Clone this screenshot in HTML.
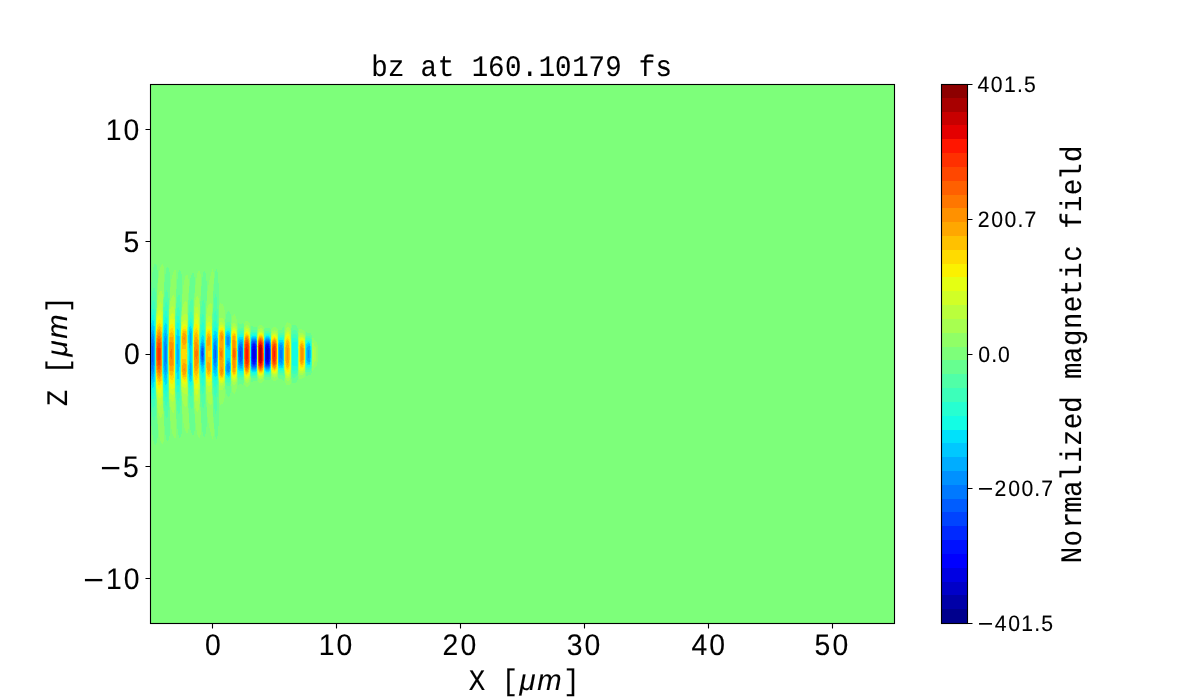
<!DOCTYPE html>
<html><head><meta charset="utf-8"><title>bz at 160.10179 fs</title>
<style>
html,body{margin:0;padding:0;background:#fff;width:1200px;height:700px;overflow:hidden}
svg{display:block;will-change:transform}
.mono{font-family:"Liberation Mono",monospace}
.sans{font-family:"Liberation Sans",sans-serif}
.it{font-family:"Liberation Sans",sans-serif;font-style:italic}
text{fill:#000;stroke:#000;stroke-width:0.1;text-rendering:geometricPrecision}
</style></head><body>
<svg width="1200" height="700" viewBox="0 0 1200 700">
<rect width="1200" height="700" fill="#fff"/>
<defs><clipPath id="ax"><rect x="150" y="84" width="744" height="539"/></clipPath></defs>
<rect x="150" y="84" width="745" height="540" fill="#7dff7a"/>
<g clip-path="url(#ax)" shape-rendering="crispEdges">
<path fill="#90ff66" d="M149  262.3l.5-.1 .5 .4 .7 1.9 .5 3 .1 5-.3 13.6-.3 1.9-.2 9-.2 2-.2 10.5-.3 2.5-.1 15.5-.3 4.5-.1 22 .1 22 .3 4.5 .1 15.5 .3 2.5 .2 10.5 .2 2 .2 9 .3 1.9 .3 14.1-.4 6.5-.4 1.9-.5 1-.5 .4-.5-.1-1-1.4-1-2.9-1-5.5-1-9.7-.2-5.7-.3-2-.3-8-.3-2-.2-10.5-.3-2-.3-15.5-.3-3.5-.1-13 .1-33.5 .3-3 .3-15.5 .3-2 .2-10.5 .3-2 .3-8.5 .3-1.5 .2-5.7 .4-2.8 .1-2.8 1-7.2 1-4.1 .5-1.2 .8-1.2zM162.5  264.4l.5 .4 .3 .7 .5 2 .3 2.5 .1 4.5-.2 10.9-.3 2.6-.2 9.5-.3 1.5-.1 10.5-.3 2.5-.1 15.5-.3 4.5-.1 22 .1 22 .3 4.5 .1 15.5 .3 2.5 .1 10.5 .3 2 .2 9 .3 2.6 .2 11.9-.2 4.5-.3 2-.6 2-.6 .6-.5-.2-1-1.3-1-3-1-5-1-8.9-.1-4.7-.4-2.1-.2-7.9-.4-2-.2-10.5-.3-2-.3-15.5-.3-3.5-.1-19.5 .1-27 .3-3 .3-15.5 .3-2 .2-10.5 .4-2 .2-7.9 .4-2.1 .1-4.7 .5-5.1 1-6.7 .5-2.1 1-3 .5-.8 .8-.6zM212.5  269.4l.5 0 .5 2.1 .1 4.5-.1 8.9-.4 4.1-.1 9-.3 2-.1 11-.3 2-.1 17-.3 2.5 0 4.5 0 37.5 .3 3.5 .1 17 .3 2 .1 11 .3 2 .1 9 .4 4.1 .1 7.9-.1 5.3-.5 2.3-.5 0-.5-.8-1-3.2-2.5-11.2-1-6.5-.1-2.4-.4-3.4-.2-7.6-.4-2.5-.3-12.5-.3-3-.2-31 .2-32 .3-3 .3-12.5 .4-2.5 .2-7.6 .4-3.4 .1-2.4 1-6.5 2.5-11.2 1-3.2 .4-.7zM174.5  269.9l.5-.2 .5 .5 .5 1.7 .4 7.1-.4 15.5-.3 2-.1 10.5-.3 2-.1 14.5-.3 2.5-.1 28 .1 28 .3 2.5 .1 14.5 .3 2 .1 10.5 .3 2 .4 16-.4 6.6-.5 1.7-.5 .5-.5-.2-.5-.6-1.5-4-1-4.8-1-8.1-.2-5.1-.3-2-.3-9-.3-2-.3-12.5-.3-2-.4-34 .4-33.5 .3-3 .3-12 .3-2 .3-9.2 .3-1.8 .2-5.1 1-8.1 1.5-6.5 .5-1.3 .9-1.5zM198.5  271l.5-.5 .5 0 .5 .7 .2 .8 .5 3 .2 5-.4 16.6-.3 2.4-.1 10.5-.3 2.5-.1 15.5-.3 4.5-.1 22 .1 22 .3 4.5 .1 15.5 .3 2.5 .1 10.5 .3 2.5 .4 17-.4 6.4-.5 1.9-.5 .7-.5 0-.5-.5-1-2.2-.5-1.8-1-5.3-1-9.7-.2-6.5-.3-2-.3-10-.3-2.5-.3-14-.3-3.5-.1-15 .1-36 .3-3 .3-14.5 .3-2.5 .3-10.5 .3-1.5 .2-6.5 1-9.7 1-5.3 .5-1.8 1-2.2zM186.5  274.8l.5-.2 .5 .3 .5 1.1 .5 3.3 .1 4.7-.1 10.7-.3 2.8-.1 10.5-.3 2.5-.1 14-.3 4-.1 11.5 .1 38.5 .3 4 .1 15 .3 2.5 .1 10.5 .3 2.8 .1 11.7-.1 3.7-.4 2.8-.6 1.6-.5 .3-.5-.2-.5-.6-1-2.3-.5-1.8-1-5-1-9.4-.2-7.1-.4-2.5-.2-11-.4-2.5-.6-31.5 .1-19 .2-4.5 .3-18.5 .1-2 .3-1 .2-11 .4-2.5 .2-7.1 .4-3.4 .1-2.1 1-6.7 1-4 .5-1.3 .8-1.4zM220  302.9l.5 .5 .5 .8 .5 .1 .5-.3 .5 .2 1 1.7 .8 2.6 .7 4.6 .1 10.9 0 4.5-.3 2 0 13.5 0 31.5 .3 7-.1 12.4-.7 4.6-1.3 3.6-.5 .7-.5 .2-.5-.3-.5 .1-.5 .8-.5 .5-.5-1.9-.2-5.7-.3-2.5-.4-14.5-.3-4-.1-22 .2-24.5 .2-2 .4-16.1 .3-1.4 .2-5.7 .5-1.8zM234  314.2l.5-.1 .5 .5 .5 1 1 3.3 .7 3.6 .3 4.5-.2 3-.1 18.5 .1 29 .2 5-.4 3.5-.6 3.1-1 3.3-.5 1-.5 .5-.5-.1-1-.9-.5-.9-.5-1.8-.5-4.1-.2-9.1-.3-23 .5-31 .5-5.2 .5-1.8 1-1.5zM246.5  320.9l.5 0 1 .4 1 .9 .5 .8 .5 1.2 .3 1.3 .2 3.5-.2 4-.1 18.5 .1 23 .2 2.5 0 3.5-.4 3-.6 1.5-1 1.3-.5 .4-1 .4-1-.2-.5-.4-.8-1-.3-1-.4-2.5-.2-8.5-.1-26.5 .2-20.5 .6-3.5 1-1.5 .8-.5zM287.5  322.4l1 .1 1 .6 1.1 1.4 .4 1.2 .2 6.3 0 42-.2 8-.4 1.5-.6 1-1 .8-1 .3-1-.2-1-1-.5-1-.5-1.8-.6-13.1 0-29.5 .6-12 .2-1.5 .6-1.5 .7-1 .7-.5zM260  325l1-.1 1 .4 1 .8 .5 .7 .5 1.3 .2 5.4 0 39.5-.2 6.5-.4 1.5-.6 .9-1 .8-1.5 .4-1.5-.6-1-1.4-.5-3.6-.2-7.5 0-26.5 .2-12.5 .5-4.1 1-1.4 1-.5zM273  327.4l1-.3 1 0 1.5 .7 1 1.5 .3 1.7 0 46-.3 1.7-.5 .9-1 1-1.5 .4-1.5-.4-1-.9-.5-1.2-.2-3.5-.3-21 .3-21.5 .2-3 .5-1.2 .9-.8zM299.5  329.2l3 .3 1.5 .9 1 1.6 .3 2.5-.1 40.5-.2 1-.5 .9-1 1.1-1 .5-2.5 .3-.5 0-.5-.4-.3-1.4-.2-.8-.2-5.2 .1-35 .1-4.2 .7-2.3zM312.5  337.2l.5 .1 1.5 3 .5 .4 1 .4 1 1.4 .6 2.5 .1 5.5 0 10-.4 4-.8 1.9-.5 .5-1 .4-.5 .4-1.5 3-.5 .1-.4-16.8 .4-16.5z"/>
<path fill="#a7ff50" d="M147.5  286.9l.5-.1 .5 .5 .6 1.7 .6 3.5 .3 5.5 0 9.9-.3 3.6-.1 16-.3 3.5 0 22 0 24 .3 4 .1 16 .3 3.1 0 10.8-.5 6.6-.5 2.1-.5 1.1-.5 .5-.5-.1-.5-.5-.5-.9-1-3.3-1-6.3-.5-5.3-.2-6.8-.3-3-.3-15-.3-2.5-.2-13.5 .2-32.5 .3-3.5 .3-15 .3-3 .2-6.8 .5-5.3 1-6.3 1-3.3 .9-1.3zM161  290.4l.5 .5 .5 1.1 .5 2.4 .3 4.6 .2 5.5-.3 7-.1 16-.3 3.5 0 21.5 0 24.5 .3 3.5 .1 16 .2 3 .1 6-.5 8.1-.5 2.4-.5 1.1-.5 .5-.5-.1-1-1.4-1-2.9-1-5.3-.5-4.5-.2-5.9-.3-2.5-.3-15-.3-2.5-.2-19 .2-27.5 .3-3 .3-15 .3-2.5 .2-5.9 .5-4.5 1-5.3 1-2.9 .5-.9 .7-.5zM173  295.4l.5 0 .5 .5 .5 1.4 .5 3.2 .2 5.5-.1 16.5-.3 4 0 26.5 0 28 .3 4.5 .1 17.5-.2 4.5-.4 2.5-.6 2.1-.5 .5-.5 0-.5-.4-.5-.7-1-2.5-1-4.8-.5-5.1-.2-9.1-.3-1.3-.1-2.7-.5-32 .5-32 .1-2.7 .3-1.3 .2-9.1 .5-5.1 .5-2.9 1-3.3 .5-1.1 .9-1zM197  296.1l.5-.1 .5 .4 .5 1.1 .5 2 .5 4.2 .2 5.3-.1 18-.3 4.5 0 22 0 23 .3 4.5 0 19.5-.1 3.8-.5 4.2-.5 2-.5 1.1-.5 .4-.5-.1-.5-.6-.5-1.1-1-4.4-.5-3.9-.1-2.9-.4-3.6-.3-12.9-.3-2.5-.2-12.5 .1-35.5 .1-4.5 .3-2 .3-12.9 .4-3.6 .1-2.9 .5-3.9 1-4.4 .7-1.3zM185.5  301.4l.5 0 .5 .7 .5 1.5 .4 3.4 .2 14.5 0 4.5-.3 2 0 10.5 0 38.5 .1 4 .2 2.5-.1 16-.5 4.9-.5 1.5-.5 .7-.5 0-1-1-1.5-3.2-.5-1.9-.5-3.3-.1-4.2-.5-4-.3-17.5-.3-3.5 0-11.5 .1-17 .2-3 .4-19 .4-2.5 .1-4.2 .5-3.3 .5-1.9 1.5-3.2 .8-.9zM210.5  302.6l.5 0 .5 1 .5 4.1 .1 3.3 0 17.5-.3 5 0 20.5 0 20.5 .3 5 0 18-.4 5.5-.2 1.4-.5 1-.5 0-.5-.5-1.5-2.4-1-2.5-.5-2.3-.5-3.7-.2-6-.3-2-.3-15 .1-39.5 .2-9 .3-2.5 .2-6 .5-3.7 .5-2.3 1-2.5 1.6-2.5zM220  317.7l2 .3 .5 .2 1 1.2 1 2.7 .4 5.4-.1 2-.1 16 0 32.5 .2 2.5-.1 3-.3 2.4-.3 1.1-1.2 2.3-1 .7-2 .3-.5-.5-.5-2.1-.3-8.2-.3-3-.1-14 .1-31.5 .3-2.5 .3-8.2 .5-2.1 .2-.2zM234  322.9l.5 0 1 .9 1 2.1 .5 1.9 .2 10.7-.1 41-.4 2-.7 1.8-1 1.5-.5 .3-.5 0-1-.5-.5-.5-.5-1-.5-2.3-.4-26.8 .4-26.8 .5-2.3 .5-1 .5-.5 .7-.4zM246.5  325l.5 0 1 .4 1 1.2 1 2.6 .2 2.3 0 45.5-.2 1.8-.8 2.2-1.2 1.6-1 .4-1-.2-.5-.4-.6-.9-.5-1.5-.4-1.9-.2-9.6-.1-24 .3-14.6 .5-2.5 .5-1.1 .5-.7 .9-.6zM287.5  326.9l1 .2 1 .8 .7 1.1 .4 1.5 .4 2.4 .1 10.6-.1 31.6-.5 2.9-.5 1.4-1 1.2-.5 .3-1 .2-1-.7-.5-.8-1-3.2-.5-6.5-.1-9.9 .1-20.5 .5-7.9 1-3.2 .5-.8 .8-.6zM260  328.3l1 0 1 .4 1 1 .5 .9 .5 1.9 .1 4.5-.1 38.5-.5 1.9-.5 .9-1 1-1.5 .5-1-.4-.5-.3-1-1.6-.5-3.1-.1-4.4-.1-23.5 .2-12.9 .5-3.1 .5-1 1.1-1zM274  330.4l1 0 1 .5 .6 .6 .6 1 .3 .9 .2 5.6 0 28-.2 7.6-.5 1.3-.5 .7-1 .8-1 .3-1.5-.5-1-1-.3-.7-.2-1-.2-5.5-.2-15 .4-20.5 .5-1.7 .5-.6 1.1-.7zM301  332.9l1 0 1 .3 1.2 1.3 .8 1.8 .1 3.2 .1 24.5-.2 7.7-.5 1.4-.5 .8-1 .9-1 .3-1.5-.1-1-.5-.5-.9-.5-3.1-.2-18 .2-15.5 .5-2.6 .5-.9 1.1-.5zM312.5  342.2l.5 0 1.5 3.5 .5 .7 .5 .2 .4 .9 .4 2 .2 2.5-.1 5-.4 3.3-.5 1.1-.5 .2-.5 .7-1.5 3.5-.5 0-.1-3.3-.1-8.5 .2-11.5z"/>
<path fill="#baff3c" d="M147  298.4l.5 0 .5 .5 .5 1.1 .5 2 .5 4.6 .1 3.4 0 16.5-.3 4.5-.1 17 .1 28 .3 6-.1 18-.4 5-.6 3-.5 1.1-.5 .5-.5 0-.5-.4-.5-.8-.5-1.3-1-4.4-.5-3.7-.5-6.3-.3-12.7-.3-3-.1-21 .1-23.5 .1-3 .2-1.5 .3-12.7 .5-6.3 1-6.3 1-3.1 .9-1.1zM160  302.5l.5-.1 .5 .4 .5 .9 .5 2 .5 4.9 0 5.9 0 10-.2 3-.1 9 .1 37.5 .2 5.5 0 15.9-.7 5.6-.4 1.5-.4 .7-.5 .4-.5-.1-.5-.3-1-1.8-1-3.3-.5-3.1-.5-5.4-.3-11.6-.2-2.5-.2-13.5 .1-30 .1-4.5 .2-1.5 .3-11.6 .5-5.4 .5-3.1 1-3.3 .5-1.1 .9-1zM172.5  306.2l.5 .1 .5 .4 .5 1.2 .5 2.4 .4 9.7-.2 7 0 55 .2 4 0 5.5-.4 6.2-.5 2.3-.5 1.3-.5 .4-.5 .1-.5-.3-.5-.6-1-2.2-.5-2-.5-3.4-.1-3.8-.4-4.5-.5-31 .5-31 .4-4.5 .1-3.8 .5-3.4 .5-2 .5-1.3 1-1.5zM196.5  306.6l.5 0 .5 .4 .5 .9 .5 1.7 .6 4.4 .4 7.3-.3 11.2 0 44.5 .3 5 0 6.5-.4 6-.5 3.5-.6 2.1-.5 .9-.5 .4-.5 0-.5-.6-.5-1.2-1-4.7-.5-4.5-.2-8.4-.3-2-.2-11 0-22 .2-19 .3-2 .2-8.4 .5-4.5 1-4.7 .7-1.4zM185  313.8l.5-.2 .5 .1 .5 .6 .5 1.7 .4 7-.2 4.5 0 20.5 0 32 .2 6-.4 6-.5 1.7-.5 .6-.5 .1-1-.6-1.5-1.4-.5-.8-.5-1.7-.5-3.9-.6-21.5 0-23 .3-4.5 .3-15 .5-3.9 .5-1.7 .5-.8 1.7-1.6zM209  315.9l1-.3 .5 .2 .5 1 .5 2.3 .4 7.9-.2 5.5 0 19.5 .2 30.5-.4 6.4-.5 2.3-.5 1-.5 .2-1-.3-1-.9-1-2-.5-2.2-.5-5-.2-8-.1-25 .3-23 .5-5 .5-2.2 1-2 .9-.8zM220.5  322.4l1.5-.1 1 .6 .5 .7 .5 1 .5 1.7 .2 2.2-.1 51.5-.2 2-.9 2.4-1 1.1-1 .2-1.5-.3-.5-.6-.5-1.7-.6-8.6-.1-21.5 .2-21.4 .5-6.7 .5-1.7 .7-.7zM233  326.5l1-.5 .5 .1 1 .8 .5 .9 .5 1.3 .5 2.4 .1 3-.1 42-.5 2.4-.5 1.3-1 1.4-.5 .3-.5 .1-1-.5-.5-.5-.5-1-.5-2.2-.1-4.3-.2-19.5 .3-23 .5-3 1-1.5zM246.5  327.3l.5 0 1 .5 .9 1.2 .6 1.3 .5 1.8 .2 5.9 0 29.5-.2 8.4-.5 1.8-.6 1.3-.9 1.2-1 .5-1-.2-.5-.5-1-2.1-.5-2.7-.1-4.7-.1-21.5 .2-16.2 .7-3.3 .8-1.5 .6-.5zM287  329.9l.5-.2 1 .2 1 1.1 .5 1 .7 3 .3 6.3 0 25.4-.3 5.8-.4 2.5-.8 2-1 1.1-1 .2-.5-.2-.5-.5-.5-.9-.8-2.7-.5-4.5-.2-5-.1-18.5 .3-7 .3-4.2 .4-1.8 .6-1.7 .9-1.3zM259.5  330.5l1-.4 1 .2 1 .8 .5 .7 .5 1 .3 1.2 .2 3 0 35.5-.4 2.5-.6 1.2-1 1.2-.5 .3-1 .2-1-.4-.5-.4-1-1.7-.5-3.3-.1-2.6-.1-20.5 .2-13.1 .5-3.3 .5-1.1 1-1zM273.5  332.5l1-.2 .5 0 1 .6 .5 .6 .5 .9 .5 1.7 .1 2.9 .1 24-.2 8.9-.5 1.7-.5 .9-1 1-1 .2-1.5-.5-1-1.1-.5-1.4-.2-4.2-.2-14.5 .4-18.7 .8-1.8 1.2-1zM301.5  335l1 .1 .5 .3 1 1 .5 1 .5 1.9 .1 4.2-.1 25.2-.5 1.9-.5 1-1 1-1 .4-1.5-.2-.5-.4-.7-.9-.3-.8-.3-1.7-.2-3.5 0-24.6 .5-3.4 .3-1 .7-.9 1.3-.6zM313  346.9l.6 2.6 .1 4.5-.1 4.5-.6 2.6-.5-.6 0-3 0-10 .4-.5z"/>
<path fill="#d1ff26" d="M146.5  305.7l.5-.1 .6 .4 .5 1 .6 2 .6 5 .2 7.5-.3 11.5 0 44 .3 6-.1 7.5-.3 6-.5 3-.6 1.9-.5 .8-.5 .2-.5-.1-.5-.6-.5-.9-1-3.6-.5-3.1-.5-5.1-.2-9.5-.3-3-.2-9.5 .1-31.5 .1-4.7 .3-2.8 .2-9 .5-5.1 .5-3.1 1-3.6 .8-1.2zM159.5  309.8l.5-.2 .5 .2 .5 .6 .6 1.6 .5 4 .3 7.5-.2 8 .1 56.5-.3 5.6-.5 2.7-.5 1.3-.5 .6-.5 .2-.5-.2-.5-.5-1-1.8-1-4-.5-4.4-.2-8-.3-2.7-.2-10.3 .1-30.5 .6-15.5 .5-4.4 .5-2.5 1-2.6 .8-1zM172  313.3l.5-.1 .5 .3 .5 .8 .5 1.5 .5 3.6 .1 4.1 0 63-.1 2.1-.5 3.6-.5 1.5-.5 .8-.5 .3-.5-.1-.5-.5-1-1.6-.5-1.6-.5-2.8-.5-5.8-.4-28.4 .4-28.4 .5-5.8 .5-2.8 1-2.6 .8-.9zM196.5  313.4l.5 .2 .5 .6 1 3.1 .5 3.6 .2 6.6-.1 57-.2 3.5-.7 4-.7 1.8-.5 .6-.5 .2-.5-.4-.5-.9-.5-1.5-1-5.8-.1-4.5-.4-4.5-.2-21.5 .2-24 .5-9.5 1-5.8 .5-1.5 .5-.9 .4-.3zM185  320l.5-.2 .5 .1 .5 .6 .5 1.8 .2 3.7 0 57-.2 2.7-.5 1.8-.5 .6-.5 .1-2.5-1.2-.5-.5-.5-1.3-.5-3.1-.6-18.1 .1-22.5 .2-4 .3-11.6 .5-3.1 .5-1.3 .5-.5 1.9-1zM208.5  322.3l1-.2 .5 .1 .5 .5 .5 1.1 .5 2.5 .2 3.7-.1 49.5-.1 2.2-.5 2.5-.5 1.1-.5 .5-.5 .1-1.5-.4-.5-.5-.5-.9-.5-1.7-.5-5.9-.2-23.5 .2-23.2 .7-4.8 .3-1.1 .5-.9 .6-.5zM220.5  325l1.5-.3 1 .7 .5 .7 .5 1.1 .5 2.1 .1 2.7-.1 46.7-.5 2.1-.5 1.1-1 1.1-1 .3-1-.3-.5-.3-.5-.8-.3-.9-.2-.8-.5-7.2-.1-19 .1-19.6 .5-6.6 .5-1.7 .5-.8 .5-.3zM233.5  328.3l1-.1 .5 .3 .5 .6 .7 1.4 .7 3.5 .2 4-.1 35.1-.4 2.9-.6 2-1 1.5-.5 .3-.5 .1-1-.5-.5-.5-.5-1.1-.5-2.5-.1-3.3-.1-18 .2-21.3 .5-2.5 .5-1.1 .6-.6zM246  329.3l.5-.2 1 .2 1 1 .5 .8 .5 1.3 .5 2.1 .1 2.5 0 26.5-.1 9.9-.5 2.2-.5 1.3-1 1.4-1 .6-.5 0-.5-.2-.5-.5-.6-1.2-.4-1.2-.4-2.3-.2-3-.1-19.5 .2-15.8 .6-3.2 .4-1.3 .8-1.2zM259.5  331.9l.5-.2 1-.1 1 .5 .5 .5 1 2 .5 3.7-.1 32.2-.4 2.9-.5 1.2-1 1.3-.5 .3-1 .2-1.1-.4-1.1-1.5-.5-2-.3-3.5-.1-17.5 .1-13.7 .5-3.5 .5-1.2 .9-1.1zM287.5  331.9l1 .3 .5 .5 .7 1.3 .5 2 .5 4.5 .1 8.5 0 15-.3 6.5-.5 2.6-.5 1.4-1 1.3-1 .3-.5-.2-.5-.6-.5-.9-.9-3.4-.4-4.5-.2-6 0-13.9 .5-9 .5-2.5 .5-1.5 .5-.9 .7-.7zM273.5  334l1-.3 .5 .1 1 .7 .5 .7 .8 2.3 .2 2.5 0 29.5-.5 2.3-.5 1-1 1.1-1 .4-1.5-.6-1-1.2-.5-1.6-.1-2.9-.2-14 .3-16.9 .5-1.6 .5-.8 1-.7zM301  336.8l1-.2 .5 .2 1 .8 1 1.9 .5 2.7 0 23.6-.5 2.7-.5 1.2-1 1.2-1 .5-1-.2-.5-.2-1-1.3-.6-2.2-.4-5 0-15 .2-4.5 .6-4 .4-1 .8-1z"/>
<path fill="#e4ff13" d="M146.5  310.9l.5 0 .5 .5 .5 .9 .5 1.8 .5 3.9 .3 8-.1 61-.2 3.4-.5 3.6-.5 1.7-.5 .9-.5 .5-.5 0-.5-.4-.5-.8-1-3.1-.5-2.8-.5-4.6-.1-5.9-.4-4.5-.2-19 .2-22 .4-5.5 .1-5.9 .5-4.6 .5-2.8 1-3.1 .9-1.1zM159.5  315l.5 0 .5 .3 .5 .8 .5 1.6 .5 3.4 .2 5.9-.1 57-.1 2.9-.5 3.4-.5 1.6-.5 .8-.5 .3-.5 0-.5-.3-1-1.5-1-3.6-.5-3.8-.5-9.5-.1-10.3 .1-28 .5-11.8 .5-3.8 .5-2.2 1-2.3 1-.9zM172  318.8l.5 0 .5 .4 .5 1 .5 2.1 .5 4.7 .1 27-.1 27-.5 4.7-.5 2.1-.5 1-.5 .4-.5 0-1-.8-1-2.2-.5-2.5-.5-5.2-.3-24.5 .3-24.5 .5-5.2 .5-2.5 .5-1.4 1.1-1.4zM196.5  318.9l.5 .2 .5 .8 .5 1.3 .5 2.4 .5 4.8 .1 25.6-.1 25.6-.5 4.8-.5 2.4-.5 1.3-.5 .8-.5 .2-.5-.2-1-2-.5-1.8-.5-3.1-.5-7.4-.1-13.6 .1-27.5 .5-7.5 .5-3.1 .5-1.8 .5-1.3 .7-.8zM184  323.8l1.5-.3 .5 .2 .5 .8 .5 2.5 0 54-.5 2.5-.5 .8-.5 .2-1.5-.3-1-.5-.5-.6-.5-1.3-.5-2.9-.5-13.4 0-21.8 .5-14.6 .5-2.9 .3-.7 .7-1.2 .6-.3zM208.5  325.9l1 0 .5 .2 .5 .7 .5 1.2 .5 3.2 .1 4.3-.1 41.3-.5 3.2-.5 1.2-.5 .7-1 .3-1-.3-.5-.5-.5-.8-.5-1.8-.5-4.1-.1-4.2-.1-19.5 .2-17.7 .5-4.1 .3-1.2 .7-1.4 .7-.6zM220.5  326.9l1-.4 .5 .1 .5 .2 .7 .7 .8 1.8 .5 3.7 0 42.8-.5 2.9-.5 1.3-1 1.2-1 .3-1-.4-.5-.4-.5-1-.3-1.2-.4-3.5-.3-5.9-.1-17.1 .2-15.5 .4-6.2 .5-2 .9-1.3zM233.5  329.9l1 0 .5 .3 1 1.8 .7 3 .3 4.8 0 26.7-.1 4.5-.4 3.1-.5 1.9-1 1.8-.5 .3-.5 .1-1-.5-.5-.7-.5-1.2-.5-3-.1-2.8 .1-34.8 .6-3.2 .4-1 .9-1zM246  330.9l.5-.3 1 .2 .5 .4 .8 1.3 .9 2.5 .3 1.9 0 1.6 0 32.6-.5 2.7-.5 1.4-1 1.6-1 .6-.5 0-.5-.3-1-1.5-.6-2.1-.4-4-.2-17 .2-15 .7-4 .5-1.5 .7-1zM260  332.9l.5-.1 1 .2 1 .9 .5 .8 .6 2.3 .4 5 0 24-.2 4-.3 1.9-.9 2.1-1.1 1-1 .2-1-.4-.5-.4-.5-.8-.5-1.4-.5-3.8 0-2.4 0-26.4 .6-4.1 .9-1.9 .8-.6zM287.5  333.8l.5 .1 .5 .4 .5 .6 .5 1.1 .5 1.9 .5 4.7 .1 8.9-.1 12.5-.3 5-.5 2.5-.7 1.6-.5 .6-.5 .4-.5 .1-.5-.3-.5-.6-.5-1.1-.8-3.2-.4-4.5-.2-7.5 .1-9.5 .3-7.2 .5-2.9 .5-1.6 .5-1.1 .7-.7zM273.5  335.2l1-.2 .5 .1 1.1 .9 .9 1.9 .5 3.1 0 26-.5 3-.5 1.4-1 1.2-1 .4-1-.2-1-.9-.7-1.4-.3-2-.3-14.5 .3-15.2 .5-1.9 .5-.8 .6-.6zM301  338.3l1-.2 .5 .2 1 .9 .5 .9 .6 1.9 .4 4.2 0 15.6-.3 3.2-.4 2-.6 1.5-.7 .8-1 .6-1-.2-.5-.3-.5-.7-.5-1.1-.5-2.3-.3-3.8-.1-11 .3-7 .6-3.1 .5-1.1 .7-.8z"/>
<path fill="#fbf100" d="M146  315.4l.5-.2 .5 .1 .5 .6 .6 1.6 .4 1.6 .5 3.9 .1 5-.1 56-.5 4.9-.5 2.1-.5 1.1-.5 .6-.5 .1-.5-.2-.5-.7-.5-1.2-1-4.3-.5-4.4-.5-9.7-.1-8.3 .1-27.5 .5-10.5 .5-4.4 .5-2.6 .5-1.7 1-1.8zM159  319.4l.5-.2 .5 .1 .5 .4 .5 1 .5 2.3 .5 5.5 0 52.2-.5 4.6-.5 2-.5 1-.5 .4-.5 .1-1-.7-.5-.8-1-3.4-.5-3.7-.5-8.9-.1-6.3 .1-28 .5-9.2 .5-3.7 .5-2.1 .5-1.3 .9-1.2zM171.5  323.7l.5-.2 .5 .2 .5 .5 .5 1.3 .5 3 .5 8.5 0 32-.2 6.5-.3 4.4-.5 2.6-.5 1.3-.5 .5-.5 .2-1-.6-.5-.8-.5-1.2-.5-2.4-.5-4.9-.1-3.6-.1-17 .2-20.6 .5-4.9 .5-2.4 .5-1.2 .7-.9zM196  323.7l.5-.1 .5 .4 .5 .8 .7 2.7 .7 6.5 .1 6.5 0 32-.5 6.2-.5 2.9-.5 1.6-.5 .8-.5 .4-.5-.1-.5-.6-1-2.6-.5-2.9-.5-8.2 0-32.6 .5-7.6 .5-2.9 .5-1.6 .8-1.3zM184  326.4l1-.2 .5 .1 .5 .3 .5 1.1 .5 3.4 0 45.8-.5 3.4-.5 1.1-.5 .3-.5 .1-1-.2-1-.5-.5-.7-.5-1.4-.5-3.3-.3-9.2 0-20 .3-14.2 .5-3.3 .4-1 .6-1.1 .7-.4zM221  328.2l1-.1 .5 .3 1 1.4 .7 2.7 .3 5-.2 10 0 14 .2 8-.1 4-.4 3.1-.5 1.6-1 1.4-1 .3-1-.4-.5-.6-.5-1.1-.5-2.3-.5-14.5 0-14 .4-13 .6-3.8 .5-1.1 .5-.6zM208  328.8l.5-.2 1 .1 .5 .4 .5 .8 .5 1.6 .5 4.9 0 35.2-.4 3.9-.4 2-.7 1.4-1 .6-1-.3-.5-.5-.5-1-.5-2-.5-4.8 0-33.8 .5-4.8 .5-2 .8-1.3zM233.5  331.5l.5-.2 .5 .1 .5 .4 .7 1.2 .6 2 .4 4 .3 10.8 0 8.4-.5 13.4-.5 2.5-.5 1.3-.5 .8-.5 .4-.5 .1-1-.6-.8-1.6-.4-2-.3-3.1 0-30.8 .5-4.5 .5-1.5 1-1.1zM246.5  332l.5 0 1 .7 1 1.7 .5 1.6 .5 3.3 .1 11.2-.1 16-.2 3.5-.3 2.1-1 2.5-1 1.2-1 .2-.5-.3-.5-.6-.5-1.1-.7-3.5-.3-2.3-.1-12.7 .1-13 .1-4 .4-2.7 .5-1.8 .5-1.1 .5-.6 .5-.3zM260  334l.5-.2 1 .3 1 1 .5 .9 .6 2.5 .3 6 0 19-.3 6-.4 2-.7 1.4-1 1-1 .3-1-.5-.5-.5-.8-1.7-.5-3-.2-4 0-23.5 .7-4.5 .8-1.7 .9-.8zM287.5  335.8l.5 .1 .5 .4 .5 .9 .8 2.8 .4 4.5 .1 8 0 9-.4 5.5-.4 2.4-.5 1.4-.5 .9-.5 .4-.5 .1-.5-.3-.5-.7-1-3-.5-3.8-.2-6.4 .2-14.5 .8-5 .7-1.7 .6-.8zM273.5  336.4l1-.2 .5 .1 1 .8 .5 .9 .6 2 .4 4.3 0 18.7-.2 3.5-.3 1.9-.5 1.6-1 1.4-1 .4-1-.2-1-.9-.6-1.2-.4-2.5-.2-13 .2-13.6 .5-2.1 .5-1 .9-.8zM301  339.8l.5-.2 1 .2 .8 .7 .5 1 .7 2.6 .3 3.9 0 10.5-.3 5.4-.5 2.1-.5 1.1-.5 .7-1 .7-1-.3-1-1.2-.6-2-.4-4-.1-9 .2-6 .4-3.5 .5-1.5 .7-1z"/>
<path fill="#ffdb00" d="M146.5  318.8l.5 .2 .5 .7 .5 1.4 .5 2.5 .4 3.9 .2 26.5-.2 26.5-.4 3.9-.5 2.5-.5 1.4-.5 .7-.5 .2-.5-.2-.5-.6-.5-1.1-1-4.2-.5-4.3-.5-9.7-.1-6.6 .1-23.6 .5-9.7 .5-4.3 .5-2.5 .5-1.7 .5-1.1 .6-.6zM159.5  322.9l.5 .1 .5 .6 .5 1.2 .5 2.4 .3 2.8 .2 3.6 .1 20.4-.1 20.4-.2 3.6-.3 2.8-.5 2.4-.5 1.2-.5 .6-.5 .1-.5-.1-.5-.4-.5-.8-1-3.3-.5-3.7-.5-9.1 0-4.2 0-23.2 .5-9.1 .5-3.7 .5-2 .5-1.3 1-1.2zM171.5  328l.5-.1 .5 .2 .5 .8 .7 2.6 .4 4.5 .3 10.5 0 17-.4 10.6-.5 3.5-.5 1.4-.5 .9-.5 .2-1-.5-.5-.6-.5-1.2-.5-2.4-.5-5.1-.1-6.8 .1-25.8 .5-5.1 .5-2.4 .5-1.2 1-1zM196.5  328l.5 .4 .5 1.1 .5 1.9 .5 3.4 .5 8 .1 11.2-.1 11.2-.5 8-.5 3.4-.5 1.9-.5 1.1-.5 .4-.5 0-.5-.5-.5-.8-.5-1.5-.5-3-.5-9.8 0-20.8 .5-9.8 .5-3 .5-1.5 1-1.3zM184.5  328.5l1 .2 .3 .3 .7 1.8 .3 3.2 .1 4.5-.4 15 .4 14-.1 6.5-.3 3.2-.5 1.5-.5 .6-1 .2-1-.3-.5-.4-.5-.9-.5-1.7-.5-4.4-.1-7.8 .1-28 .5-4.2 .5-1.7 .5-.9 .5-.4 .9-.3zM221.5  329.5l1 .4 1 1.7 .5 2.2 .2 4.2-.2 9 .1 26-.2 2-.7 2-.7 1.1-1 .4-1-.5-.5-.8-.5-1.4-.3-2.3-.7-19.5 .7-19.5 .3-2.3 .5-1.4 .5-.8 .9-.5zM208.5  330.9l1 .2 .5 .6 .5 1.1 .5 2.7 .3 6 0 24-.1 5.5-.2 1.9-.5 2.3-.5 1.1-.5 .6-.5 .2-.5 0-.5-.3-.5-.6-.5-1.2-.5-2.4-.5-6.9 0-22.2 .2-4.5 .3-3.6 .5-2.4 .5-1.2 .9-.8zM233.5  333l.5-.2 .5 .1 .5 .5 .6 1.1 .5 2 .4 4.2 .4 11.8-.4 14.5-.3 3.5-.7 3.2-.5 .9-.5 .5-.5 .1-.5-.2-.8-1-.7-2.3-.3-3.7-.2-12.5 .4-18 .6-3.1 .5-1 .5-.4zM246.5  333.3l.5 0 1 .7 1 1.9 .5 1.7 .5 4.7 0 8.7 0 14.7-.4 3.8-.4 2-.7 1.7-1 1.3-1 .2-.5-.3-.5-.7-.5-1.2-.5-2.1-.5-4.9 0-3.5 0-20 .7-5.5 .8-2.2 .6-.8zM260  334.9l.5-.1 1 .3 1 1.1 .5 1 .6 2.3 .2 6 0 17.5-.3 6-.5 1.8-.5 1-1 1.1-1 .3-1-.5-.5-.5-.6-1.2-.4-1.5-.5-5.2 0-17.3 .2-5.5 .3-3.1 .5-1.7 .5-.9 .9-.8zM274  337.3l1 .1 .5 .3 1 1.8 .6 3 .3 6 0 12-.4 6-.5 2.1-.5 1-.5 .7-1 .5-1-.3-1-1-.5-1.1-.5-2.5-.1-11.9 .1-11.9 .8-3.1 .7-1.1 .5-.4zM287.5  337.8l.5 .1 .5 .6 .5 1.1 .5 2.2 .4 4.7 .1 6.5-.1 8-.4 5.2-.5 2.2-.5 1.1-.5 .6-.5 .1-.5-.3-.5-.8-.9-3.1-.4-4-.2-5 0-8 .4-5.5 .6-3.2 .5-1.4 .6-.9zM302  341l1 .7 .5 .9 .5 1.5 .5 3.9 .1 5.5-.1 6.4-.4 3.6-.9 2.5-.7 .8-.5 .2-.5 0-.5-.3-.5-.6-.5-1.1-.5-2.5-.3-5 0-7.5 .3-4.5 .7-3 .6-1 .7-.5z"/>
<path fill="#ffc100" d="M146  322.3l.5-.2 .5 .3 .5 .9 .5 1.5 .5 3.2 .5 7.8-.1 38.7-.4 5.8-.5 2.9-.5 1.5-.5 .9-.5 .3-.5-.2-.5-.5-.5-1.1-1-4.2-.5-4.3-.5-10.5 0-22.2 .5-10.5 .5-4.3 .5-2.6 .5-1.6 .8-1.4zM159  326.3l.5-.1 .5 .3 .5 .7 .5 1.5 .6 3.8 .4 8.9 0 25.2-.3 6.9-.2 2.9-.5 2.9-.5 1.5-.5 .7-.5 .3-.5-.1-.5-.4-.5-.7-.5-1.3-.5-2.1-.5-3.8-.5-10.3 0-18.2 .5-10.3 .5-3.8 .5-2.1 .5-1.3 .7-.9zM183.5  330.9l.5-.2 1 0 .5 .4 .6 1.4 .4 2.2 .1 1.8-.1 7.3-.5 3.7-.5 1.1-.5 .2-1-.2-1.5 .8-.5-1.4-.2-2 0-8 .2-2.9 .4-2.1 .6-1.5 .4-.5zM221.5  330.9l.5 .1 .5 .4 .8 1.6 .4 2 .2 3-.4 8 .2 8-.2 8.5 .4 6 0 3-.4 2.8-.5 1.5-.5 .8-.5 .4-.5 .1-.5-.2-.7-.9-.8-2.7-.7-18.8 .7-19.5 .5-2.5 .5-.9 .7-.6zM171.5  332.2l.5-.1 .5 .4 .5 1 .5 2 .5 4.9 .2 7.6-.2 19.6-.7 5.9-.8 2-.5 .4-.5-.1-.5-.3-.5-.6-.5-1.2-.5-2.5-.5-5.9 0-22.6 .5-5.9 .5-2.5 .5-1.2 .5-.6zM196  332.2l.5 0 .5 .6 .5 1.3 .6 2.9 .4 3 .2 4 .3 10-.3 10-.2 4-.4 3-.6 2.9-.5 1.3-.5 .6-.5 0-.5-.4-.5-.7-.5-1.6-.4-2.6-.4-12.5 0-10.5 .3-9 .5-3.6 .5-1.6 .6-.8zM208.5  333.3l.5 0 .5 .3 .5 .8 .5 1.6 .3 3 .2 3.5-.5 8.1-.5 1-1-1-.5 0-.5 1.3-.1 1.1 .1 3 .5 1.4 .5 0 1-1 .5 1 .5 6.1-.1 4.5-.4 3.9-.5 1.7-.5 .8-.5 .3-.5 0-.5-.3-.5-.8-.5-1.6-.3-2-.3-4-.2-9.5 .3-16.7 .5-3.8 .5-1.6 .6-.9zM234  334.3l.5 .1 .5 .6 .5 1.3 .4 2.2 .6 9.2 .2 6.3-.2 6.3-.6 9.2-.4 2.2-.5 1.3-.5 .6-.5 .1-.5-.2-.5-.6-.5-1.3-.3-1.6-.4-15 .3-16 .4-2.6 .5-1.3 .5-.6zM246  334.9l.5-.4 .5 0 .5 .3 1 1.4 .5 1.2 .7 3.6 .3 6.5 0 14-.5 7-.5 2.1-.6 1.4-.9 1.2-.5 .3-.5 0-.5-.4-.5-.7-.7-2.4-.5-3-.3-5 0-15.5 .2-3.5 .6-5 .6-2 .5-1zM260  335.9l.5-.2 1 .4 1 1.1 .5 1.1 .5 2.2 .2 5.5 .1 15.5-.3 6-.5 2.2-.5 1.1-1 1.1-1 .4-1-.5-.5-.6-.7-1.7-.4-2.5-.4-5.7 0-14.6 .3-5.2 .2-1.8 .5-1.8 .5-1.1 .8-.8zM274  338.4l1 0 .5 .5 1 2 .5 2.6 .3 5.5-.1 10.5-.2 5-.5 2.5-.5 1.4-.5 .7-1 .6-1-.3-1-1.1-.5-1.2-.5-3.1 0-20 .7-3.5 .8-1.5 .7-.5zM287.5  340l.5 .2 .5 .8 .6 2.5 .4 4 .1 6-.1 6.5-.4 4.5-.6 2.5-.5 .8-.5 .2-.5-.3-.5-1-.6-2.2-.4-3.6-.1-6.4 .1-7 .4-3.5 .6-2.7 .5-1 .5-.3zM301  342.9l.5-.3 .5 0 .5 .3 .5 .6 .8 2.5 .3 3.5 .1 7.5-.2 4-.8 3-.7 1.1-.5 .3-.5 0-.5-.3-.6-1.1-.5-2-.3-3.5 0-7 .2-4 .3-2.5 .4-1.2 .5-.8zM182.5  358.6l1.5 .8 1-.2 .5 .2 .5 1.1 .5 3.5 .1 6-.2 4-.7 2.5-.7 .8-.5 .1-1-.3-.5-.6-.5-1.1-.5-2.5-.3-7.9 .3-5 .3-1z"/>
<path fill="#ffa700" d="M146  325.3l.5-.1 .7 .8 .6 1.5 .4 2 .5 5.5 .3 10.3 0 17.7-.4 12-.7 5-.4 1.5-.5 .9-.5 .4-.5-.1-.5-.5-.5-1-1-4.3-.5-4.6-.5-13.1 0-11.2 .5-12.3 .5-4.6 .5-2.6 .5-1.7 .8-1.3zM159  329.4l.5-.1 .5 .4 .5 .9 .6 2.4 .5 5 .3 10.5 0 13.5-.4 9.9-.5 3.7-.4 1.4-.6 1.3-.5 .4-.5-.1-.5-.3-.5-.8-.5-1.3-.5-2.2-.5-4.2-.4-12.3 0-9 .4-10.3 .5-4.2 .5-2.2 .5-1.3 .8-1zM221.5  332.4l.5 .2 .5 .5 .5 1.2 .4 3.7-.7 7 .7 9-.7 9.5 .6 5 .1 2.5-.5 3-.5 1-.4 .4-.5 .2-.5-.3-.5-.7-.6-2.6-.2-3 .2-5.5-.7-5.5-.2-4 .2-4 .7-5.5-.2-5.5 .2-3 .6-2.6 .5-.7 .4-.2zM184.5  333l.7 .5 .5 1 .3 1.5 .1 3-.1 2.8-.4 1.7-.6 1-.5 .2-1-.1-.5-.3-.2-.3-.3-1-.2-3 .2-3.5 .4-2 .6-1.1 .8-.4zM246.5  335.8l.8 .2 .7 .7 .7 1.3 .5 2 .5 4.5 .1 7.5 0 9.5-.4 5.5-.4 2.1-.8 1.9-.7 .9-.5 .3-.5 0-.5-.3-.5-.9-.9-3.5-.4-4.5-.1-6 0-9 .4-6.5 .7-3.5 .3-1 .7-1zM208  336.5l.5-.5 .5 .1 .6 .9 .5 2 .1 3.5-.2 1.8-.5 1.1-1.5 .5-.5 0-.4-1.4-.1-3 .5-3.5 .5-1.5zM233.5  336.4l.5-.4 .5 .3 .5 .9 .3 1.3 1.2 14.5-.1 4-.9 11.5-.5 2.3-.5 .9-.5 .3-.5-.4-.5-.9-.4-2.2-.2-6.5-.4-7 .5-15 .5-2.5 .4-1zM171  336.8l.5-.2 .5 0 .5 .5 .5 1.4 .6 4 .4 9-.1 8-.4 7.1-.5 2.9-.5 1.4-.5 .5-.5 0-.5-.2-.5-.6-.5-1.3-.4-2.3-.6-10.5 .1-7 .4-7.9 .5-2.9 .5-1.3 .4-.4zM195.5  336.9l.5-.3 .5 .1 .5 .7 1 3.7 .5 3.9 .3 7-.2 10-.6 4.9-1 3.7-.5 .7-.5 .1-.5-.3-.5-.8-.5-2-.5-7.8-.1-10 .2-6.5 .4-4.3 .5-2 .4-.7zM260  336.8l.5-.2 1 .4 1 1.3 .5 1.2 .5 2.7 .2 4.8 0 13-.2 5.8-.5 2.7-.5 1.2-1 1.3-1 .4-.5-.2-.8-.7-.8-2-.5-3-.3-6 0-10.5 .3-7 .6-3 .5-1.2 .7-.8zM274  339.4l.5 0 .5 .1 .5 .5 .7 1.5 .6 3 .3 4.5 0 10.5-.3 4.5-.8 3.1-.5 .9-.5 .5-.5 .1-1-.3-1-1.2-.5-1.6-.5-4.2 0-14.3 .2-2.5 .3-2.1 .5-1.5 .5-.8 .8-.6zM287.5  342.8l.5 .3 .6 2.4 .3 3.5 .1 4.5 0 5-.3 3.5-.6 2.5-.1 .4-.5 .3-.5-.4-.6-1.8-.4-3.1-.1-3.4 .2-9 .4-2.9 .7-1.6zM301.5  344.4l.5 0 .5 .5 .5 .9 .5 2.3 .2 2.9 0 5.5-.2 3.4-.5 2.3-.5 .9-.5 .5-.5 0-.5-.6-.5-1.4-.4-4.6-.1-5.5 .2-3.5 .4-2 .4-1 .4-.5zM207.5  362.1l.5 0 1.5 .5 .5 1.1 .1 .8 .1 2.5-.2 2.7-.5 1.6-.5 .6-.5 .1-.5-.5-.4-1-.4-2-.2-3.5 .3-2.5zM183.5  363.4l1-.1 .5 .2 .5 .6 .5 2.1 .1 2.8-.1 3.1-.5 2-.5 .7-.5 .2-.5 0-.5-.4-.5-.8-.6-2.8-.1-3 .1-2.5 .4-1.5 .5-.5z"/>
<path fill="#ff9100" d="M146  328.1l.5 0 .5 .5 .5 1.1 .5 2.3 .5 5 .4 11.5-.1 13.5-.3 9.8-.8 5.7-.7 1.9-.5 .5-.5 0-.5-.5-.5-1.1-1-4.5-.5-5-.3-10.3 0-9.5 .3-9.8 .5-5 .5-2.8 .5-1.7 .6-1.2zM159  332.4l.5 0 .5 .5 .5 1.1 .5 2.5 .5 5.5 .2 12-.2 12-.5 5.5-.5 2.5-.5 1.1-.5 .5-.5 0-.5-.4-.5-.7-.5-1.4-.5-2.4-.5-4.9-.3-10.8 .3-12.5 .5-5 .5-2.6 .5-1.4 .8-1zM221.5  334.5l.5 .2 .4 .8 .3 2-.3 2-.4 1.1-.5 .4-.6-.5-.4-2.5 .3-2.5 .2-.6 .4-.4zM184  336.9l.5 .1 .3 1.5-.3 1.4-.5 .1-.3-.5-.2-1 .4-1.5zM246  337.5l.5-.5 .5 .1 .5 .3 .5 .6 .7 1.5 .7 4 .2 5 0 12-.3 5-.5 2.5-.8 2-.5 .6-.5 .3-.5 .1-.5-.5-.5-.9-.5-2.1-.5-3.5-.2-6 0-8.5 .2-5.5 .5-3.8 .5-1.8 .5-.9zM260  337.7l.5-.2 1 .4 1.1 1.6 .4 1.3 .4 2.2 .2 4.5 0 13.5-.3 4.5-.3 1.7-.7 1.8-.8 1.1-1 .4-1-.6-1-2-.5-2.6-.3-5.3 0-10.5 .3-6.8 .5-2.6 .5-1.3 .6-.8zM234  338.9l.5 .7 .1 .4 .2 4 1.2 6.1 .2 3.9-.2 3.9-1.2 6.1-.2 4-.1 .4-.5 .7-.5-1.1-.2-4.5-.8-5.3-.2-4.2 .2-4.2 .8-5.3 .1-4 .6-1.5zM274.5  340.4l.5 .2 .7 .9 .8 2.9 .3 3.6 .1 5.5-.1 6-.3 4.1-.8 2.9-.7 .9-.5 .2-1-.4-.5-.5-.7-1.7-.5-3-.2-5 0-8 .4-4.9 .5-1.9 .5-.9 .5-.5 .6-.3zM171  341.8l.5-.2 .5 .1 .5 .9 .2 .9 .5 3 .3 5.5-.1 6-.4 5.3-.5 2.1-.5 .9-.5 .1-.5-.2-.5-.6-.5-1.7-.5-5.9 .1-10 .4-3.9 .5-1.7 .3-.4zM195.5  342l.5-.4 .5 .1 .5 .7 .5 1.4 .5 2.7 .5 6.5-.1 4-.4 4.9-.5 2.3-.5 1.4-.5 .7-.5 .1-.5-.4-.5-1.4-.4-3.6-.2-3.5 .1-10 .5-4.1 .5-1.4zM301.5  347.1l.5 0 .6 1.4 .4 2.5 0 3 0 3-.4 2.5-.6 1.4-.5 0-.5-1.4-.3-3.5 0-5.5 .3-2.3 .3-.7zM221  347.7l.5-.1 .6 .9 .5 1.5 .3 3 0 2.5-.4 2.9-.5 1.4-.5 .6-.5-.1-.5-.4-.4-.9-.6-3 0-4.5 .5-2.3 .7-1.2zM287.5  347.8l.5 1.8 .1 4.4-.1 4.4-.5 1.8-.5-1.4-.2-3.8 .2-5.5 .4-1.5zM221.5  367l.5 .4 .4 1.1 .3 2-.3 2-.4 .8-.5 .2-.5-.4-.2-.6-.3-2 .3-2.5 .2-.7 .5-.3zM184  368l.5 .1 .3 1.4-.3 1.5-.5 .1-.5-1.6 .5-1.5z"/>
<path fill="#ff7700" d="M146  330.9l.5 .1 .5 .6 .5 1.3 .5 2.6 .5 5.7 .2 12.8-.2 12.8-.5 5.7-.5 2.6-.5 1.3-.5 .6-.5 .1-.5-.5-.5-1.1-.5-1.8-.5-3-.5-6-.2-10.2 .2-11.2 .5-6 .5-3 .5-1.8 .5-1.1 .4-.4zM159  335.4l.5 .1 .5 .7 .5 1.3 .5 2.9 .4 6.6 .1 7-.1 7-.4 6.6-.5 2.9-.5 1.3-.5 .7-.5 .1-.5-.4-.5-.8-.5-1.6-.5-2.8-.5-6.7-.1-5.8 .1-6.8 .5-6.7 .5-2.8 .5-1.6 .5-.8 .4-.3zM246.5  338.4l.5 0 .5 .4 .5 .7 .5 1.2 .5 1.8 .4 4.5 .1 6-.1 7.5-.4 4.8-.5 2-.5 1.2-.5 .7-.5 .4-.5 0-.5-.4-.5-1.2-.5-2.2-.4-4.8-.2-5 .1-7.9 .3-4.6 .7-3.5 .5-1.2 .4-.3zM260.5  338.4l1 .4 .5 .6 .5 1 .5 1.8 .4 4.3 .1 6.5 0 8-.5 4.8-.5 1.8-.5 1-.5 .6-1 .4-1-.6-.5-.9-.5-1.6-.5-3-.2-7 0-8.5 .3-4.5 .4-2.2 .5-1.4 .5-.9 .8-.5zM273.5  342l1-.4 .5 .2 .5 .7 .7 2.5 .4 3.5 0 8.5-.2 4.5-.7 3.5-.7 1.2-.5 .2-1-.4-.5-.6-.5-1.1-.5-2.6-.1-2.2-.1-8 .2-5.2 .5-2.6 .5-1.1 .5-.6zM234  347.5l.5 .3 .5 .8 .4 1.4 .5 4-.5 4-.4 1.4-.5 .8-.5 .3-.5-.5-.5-1.6-.4-4.4 .4-4.4 .5-1.6 .5-.5zM171.5  349.2l.5 .8 .4 4-.4 4-.5 .8-.5-.3-.2-.5-.3-1.1-.1-1.4 .1-4.4 .5-1.6zM196  349.2l.5 0 .5 .4 .5 1.5 .1 1.4-.1 4.4-.5 1.5-.5 .4-.5 0-.5-1.5-.1-.8 0-5 .5-2zM221  351l.5-.1 .4 .6 .3 1.5-.1 3-.6 1.1-.5-.1-.5-.7-.3-1.8 .2-2.5 .6-1z"/>
<path fill="#ff6000" d="M146  333.8l.5 .1 .5 .7 .5 1.6 .5 3.2 .4 7.1 .1 7.5-.1 7.5-.4 7.1-.5 3.2-.5 1.6-.5 .7-.5 .1-.5-.4-.5-1.2-.9-4.6-.5-6-.1-6.5 0-7 .5-7.6 .8-4.9 .7-1.8 .3-.2zM159  338.6l.5 .2 .5 .9 .6 2.3 .4 4 .2 8-.2 8-.4 4-.6 2.3-.5 .9-.5 .2-.5-.4-.5-1-.5-1.8-.5-3.7-.3-6.5 .3-10.5 .5-3.7 .5-1.8 .5-1zM260.5  339.3l1 .5 .5 .7 .9 2.5 .4 4 .1 6-.1 7-.3 4.5-.5 1.9-.5 1.1-.5 .7-1 .5-.5-.2-.5-.5-.5-.9-.5-1.6-.4-3.5-.2-3.5 .1-9.5 .2-4.5 .3-1.9 .5-1.7 .5-.9 .6-.5zM246.5  339.8l.5 .1 .5 .4 .5 .8 .6 1.9 .5 3.5 .1 7-.1 7-.4 4-.8 2.5-.7 1-.7 .2-.5-.6-.4-1.1-.5-2.5-.4-8 0-6.5 .3-4.8 .5-3 .5-1.3 .3-.4zM274  343l.5-.1 .5 .3 .5 .9 .6 2.4 .2 4 0 7-.2 4-.6 2.4-.5 .9-.5 .3-.5-.1-.5-.3-.8-1.7-.5-2.5-.2-3.5 0-6.5 .4-4 .6-2.4 1-1.1zM234  349.9l.5 .3 .5 .9 .4 2.9-.4 2.9-.5 .9-.5 .3-.5-.6-.5-3 .2-3 .3-1.1 .4-.4z"/>
<path fill="#ff4700" d="M146  336.7l.5 .2 .5 .9 .6 2.7 .5 5 .2 8.5-.2 8.5-.5 5-.6 2.7-.5 .9-.5 .2-.5-.5-.5-1.2-.5-2.3-.5-4.5-.3-7.3 .1-6.5 .4-5.5 .3-2.8 .5-2.3 .7-1.4zM260  340.5l.5-.2 .5 .1 .5 .4 .9 1.7 .6 3.5 .2 3.5 0 9-.3 4.5-.4 2.1-.5 1.3-.5 .8-.5 .4-.5 .1-.5-.2-.5-.5-.7-2-.5-3-.2-4.5 0-7.5 .3-5 .6-2.9 .5-1.1 .5-.5zM246.5  341.5l.5 0 .5 .5 .5 1.1 .5 1.9 .3 3.5 .1 5-.1 5.5-.3 3.8-.5 2.1-.5 1.1-.5 .5-.5 0-.5-.6-.6-2.9-.4-4 0-4.5 0-5 .3-4 .6-3 .6-1zM159  342.3l.5 .3 .5 1.2 .4 2.2 .4 8-.4 8-.4 2.2-.5 1.2-.5 .3-.5-.4-.5-1.2-.4-2.1-.5-7 .1-4.5 .3-4 .5-2.6 .7-1.4zM274  344.5l.5-.1 .5 .4 .5 1.3 .5 4.9 0 5.5-.2 3.5-.5 2.5-.3 .7-.5 .4-.5-.1-.5-.5-.5-1-.5-2.5-.1-2.5 .1-8.5 .5-2.5 .5-1 .5-.5zM234  352.8l.4 1.2-.4 1.2-.2-1.2 .1-1z"/>
<path fill="#ff3000" d="M146  339.9l.5 .3 .5 1.2 .5 2.8 .4 9.8-.4 9.8-.5 2.8-.5 1.2-.5 .3-.5-.5-.5-1.5-.5-2.9-.4-8.7 .1-5 .3-4.7 .5-2.9 .5-1.5 .4-.4zM260.5  341.3l.5 .1 .5 .5 .5 .9 .5 1.7 .4 4 .1 5-.1 6-.4 4-.5 1.7-.5 .9-.5 .5-.5 .1-.5-.2-.5-.7-.5-1.3-.5-2.8-.2-4.2 0-7 .2-4.2 .5-2.9 .5-1.2 .5-.7zM246.5  343.5l.5 .1 .5 .7 .5 1.7 .3 3 .1 4.5 0 5-.4 3.5-.5 1.7-.5 .7-.5 .1-.5-1-.4-2-.3-5 .2-9 .4-2.5 .3-1zM274.5  346.4l.5 .7 .3 1.9 .2 5-.2 5-.3 1.9-.5 .7-.5-.1-.5-.8-.5-2.2-.1-2 .1-6.8 .5-2.4 .6-.8zM159  347l.5 .6 .4 1.9 .2 4.5-.2 4.5-.4 1.9-.5 .6-.5-.6-.3-1.4-.4-3.5 .2-5.5 .6-2.5z"/>
<path fill="#ff1600" d="M260.5  342.4l.5 .1 .5 .6 .8 2.4 .3 3 .1 5 0 5.5-.4 3.5-.8 2.4-.5 .6-.5 .1-.5-.3-.5-.7-.5-1.7-.4-2.9-.1-3.6 0-6.4 .4-4 .6-2.6 .5-.7 .3-.2zM146  343.6l.5 .5 .5 1.9 .4 4 .1 4-.1 4-.4 4-.5 1.9-.5 .5-.5-.7-.5-2-.5-6.7 .4-7.5 .3-2 .5-1.5zM246.5  346.7l.5 .2 .5 1.8 .2 5.3-.2 5.3-.5 1.8-.5 .2-.5-2.1-.1-3.7 .1-6.5 .4-2zM274.5  351.1l0 5.8-.5-1.5 0-2.8 .3-1.1z"/>
<path fill="#e40000" d="M260  344l.5-.3 .5 .2 .7 1.1 .4 2 .3 4 0 6.5-.3 3.5-.6 2.4-.5 .7-.5 .2-.5-.3-.6-1.5-.4-2-.2-3 .2-9.5 .5-3 .5-1zM146  349.2l.5 1.3 .2 3.5-.2 3.5-.5 1.3-.5-1.4-.2-2.9 .2-3.9 .4-1.1z"/>
<path fill="#c80000" d="M260.5  345.2l.5 .3 .5 1.1 .2 .9 .3 2.7 0 3.8 0 3.8-.3 2.7-.2 .9-.5 1.1-.5 .3-.5-.5-.5-1.5-.3-4.3 .1-7.5 .2-1.8 .7-1.7z"/>
<path fill="#a80000" d="M260.5  347.5l.5 .6 .3 1.4 .2 4.5-.2 4.5-.3 1.4-.5 .6-.5-1-.3-3.5 0-5.5 .5-2.5z"/>
<path fill="#66ff90" d="M142.5  262.3l.5-.1 .5 .4 .7 1.9 .5 3 .1 5-.3 13.2-.3 2.3-.2 9-.3 2-.2 10.5-.3 2.5-.2 15-.3 4-.1 23 .2 24 .2 2.5 .2 16 .3 2 .2 10.5 .3 2 .2 9 .3 2.3 .3 14.2-.1 4-.4 2.5-.6 2-.7 .8-.5-.1-1-1.4-1-3-.5-2.3 0-170 1-4.1 .5-1.2 .8-1.2zM155  263.7l.5-.2 .5 .4 .5 .8 .5 1.7 .5 3.9 .1 4.7-.1 9.1-.3 3.9-.2 8.8-.3 1.7-.2 10.5-.3 3-.2 15.5-.3 2.5-.1 24 .1 24 .3 2.5 .2 15.5 .3 3 .2 10.5 .3 1.7 .2 8.8 .3 3.9 .1 10.1-.1 3.7-.5 3.9-.5 1.7-.5 .8-.5 .4-.5-.2-.5-.5-.5-1-1-3.8-1-7.3-.1-2.7-.4-2.9-.2-5.6-.3-2-.2-8-.3-2-.2-10.5-.3-2-.6-27.5 .1-36.5 .2-3.5 .2-15.5 .4-3 .2-11 .3-1.5 .2-8 .3-2 .2-5.6 1-9.8 1-5.3 .5-1.6 .7-1.2zM167.5  266.7l.5 .1 .5 .8 .9 3.4 .5 5 .2 5-.1 7.2-.4 4.8-.1 9.5-.3 2.5-.2 12-.3 2.5-.4 34.5 .4 34.5 .3 2.1 .2 12.9 .3 1.9 .1 9.6 .4 4.8 .1 8.7-.3 5.5-.6 4-.7 2.4-.5 .8-.5 .1-.5-.4-.5-1.2-1-4.8-1-9.4-.1-5-.4-2.2-.2-7.8-.3-2.5-.2-10-.3-2.5-.2-15.5-.3-4-.1-14.5 .1-29.5 .2-3.5 .2-15.5 .4-3 .2-10.5 .3-2 .2-7.8 .4-2.2 .1-5 .5-5.4 1-6.9 .5-1.9 .7-1.3zM216  269.5l.5-.4 .5 .9 .5 2.2 .5 3.7 .7 9.6 .2 11.5-.4 30-.2 3.5-.1 19 .1 27.5 .2 4 .1 15.5 .3 9.5 0 9.5-.3 9-.6 7.6-.6 4.4-.4 1.5-.5 .9-.5-.4-.5-1.5-.5-2.8-1-10-.1-4.7-.4-2.8-.2-7.7-.3-2.5-.2-10-.3-2.5-.6-29.5 .1-29.5 .3-4 .2-16.5 .3-3 .2-10.5 .3-2 .2-7.7 .4-2.8 .1-4.7 .5-5.7 .5-4.3 .5-2.8 .5-1.5zM179.5  270.1l.5-.1 .5 .6 .5 1.3 .5 2.3 .5 4.3 .2 6.5-.2 12.6-.4 4.4-.1 10.4-.3 3.6-.2 18.7-.3 5.3-.1 14 .1 14 .3 5.3 .2 18.7 .3 3.6 .1 10.4 .4 4.4 .2 14.1-.2 5-.5 4.3-.6 2.7-.4 .9-.5 .6-.5-.1-.5-.7-1-3.8-1-8.1-.1-2.8-.4-3.6-.2-6.4-.3-2.1-.2-9.9-.3-2-.6-26 0-42.5 .1-3.5 .3-3 .2-14.4 .3-1.6 .2-9.9 .3-2.1 .2-6.4 .4-3.6 .1-2.8 1-8.1 .5-2.3 .7-1.8zM204  271.4l.5-.1 .5 .7 .5 1.4 .5 2.6 .5 4.7 .2 6.8-.2 13.2-.4 4.8-.1 11.6-.3 4.4-.2 32.5 .2 32.5 .3 4.4 .1 11.6 .4 4.8 .2 14.7-.2 5.3-.5 4.7-.6 3-.4 1-.5 .7-.5-.1-.5-.8-1-4.1-1-8.6-.1-2.6-.4-4.1-.2-6.4-.3-2.6-.2-9.9-.3-2.5-.2-15.5-.3-4.6-.1-15.9 .1-25.9 .3-4.6 .2-15.5 .3-3 .2-9.4 .3-2.6 .2-6.4 1-11.7 1-6.1 .5-1.6 .4-.7zM193  272.5l.5 .2 .2 .3 .6 2 .3 2.5 .1 5-.2 11.4-.3 3.6-.2 10.2-.3 2.3-.2 14.8-.3 2.7-.1 26.5 .1 26.5 .3 2.7 .2 14.8 .3 2.3 .2 10.2 .3 3.6 .2 12.4-.2 4.8-.3 2.2-.7 1.8-.5 .2-.5-.3-.5-.7-.5-1.1-1-3.8-1-7.1-.5-6-.1-5-.4-3.4-.2-9.1-.3-2.8-.2-14.2-.3-3.5-.1-10 .1-38 .3-4.5 .2-14.2 .3-2.8 .2-9.1 .4-3.4 .1-5 1-10.2 .5-2.9 1-3.8 .5-1.1 .5-.7 .5-.3zM228  311.5l.5-.3 .5 .1 .5 .5 1 2.5 .5 3.2 .2 9-.3 27.5 .3 20.5-.1 15.5-.5 3-.6 2.3-.5 .9-.5 .5-.5 .1-1-.9-1-1.9-.5-1.9-.5-3.3-.3-9.3-.3-2-.1-7.5 .1-36 .6-14.8 .5-3.3 .5-1.9 .5-1.2 1-1.3zM238.5  323.2l2 .8 2-.6 .5 0 .5 .7 .2 7.9-.1 48-.1 3.9-.5 .7-.5 0-2-.6-2 .8-.5-.6-.2-4.7-.3-1.2-.2-16.8 .1-27 .1-4.8 .3-1.2 .2-4.7 .3-.3zM293  324.9l2-.2 1 .5 .5 .5 .8 1.3 .5 1.5 .3 3 .1 38-.2 9-.3 1.5-.7 1.6-1 1.2-1 .5-2-.2-.8-.6-.2-.3-.4-1.7-.1-1.5-.3-22 .2-26 .1-3 .3-1.5 .2-.7 .8-.8zM251.5  325.7l2 1 2.5-.1 .5 .1 .5 .4 .2 1.4 .1 7.5-.1 44-.2 .9-.5 .4-3 0-2 1-.5-.4-.3-5.4-.2-.5-.2-8 .1-32.5 .1-3.5 .2-.5 .4-5.5zM283.5  327.2l.5-.2 .3 1 .2 3-.2 5 0 17.5 0 18.5 .2 2 0 3.5-.1 2-.4 1.5-.5-.2-1.4-1.8-.6-.5-2 0-.5-.1-.5-.4-.5-3.3-.1-4.7-.1-24.5 .2-12.2 .5-3.3 .5-.4 .5-.1 2 0 .6-.5 1.2-1.5zM265.5  327.9l4 .3 1 .5 .5 1 .2 7.8-.2 16.5 .2 18.5-.2 5.8-.5 1-.5 .4-4.5 .4-.5-.1-.5-1-.3-11 .1-34.5 .2-4.5 .6-1zM306.5  332.4l3 .4 1 .6 .5 .6 .5 1 .3 1.5 .3 4.5-.2 13 .2 12.5-.3 5-.3 1.5-1 1.6-1 .6-2.5 .4-.5 0-.5-.4-.5-3.5-.1-4.7 0-29 .6-5.2 .4-.3zM318.5  349.3l.5 2.2 0 2.5 0 2.5-.5 2.2 0-9.2z"/>
<path fill="#50ffa7" d="M141  287.4l.5 0 .5 .5 .7 2.6 .5 4 .2 6.5-.4 24.1-.3 4.9-.1 23.5 .1 24 .3 5.4 .4 25.6-.5 8-.4 2.2-.5 1.4-.5 .5-.5 0-.5-.5-.5-1 0-130.2 .9-1.4zM154  287.9l.5 .4 .5 1.1 .6 3.1 .4 4.5 .2 7.5-.2 19-.3 7-.1 22 .1 25 .3 7 .2 22.5-.2 4.9-.5 4.5-.5 2.2-.5 1.1-.5 .4-.5-.3-.5-.7-1-3.5-1-6.9-.5-6-.1-5.2-.4-4.4-.2-13.6-.3-4.3-.1-17.7 .1-24.7 .3-4.3 .2-13.6 .4-4.4 .1-5.2 .5-6 1-6.9 1-3.5 .5-.7 .4-.2zM166.5  290.2l.5 .2 .5 1.1 .8 4 .4 5.5 .2 7.5-.7 45.5 .6 49.5-.3 7-.5 4-.5 2-.5 1.1-.5 .2-.5-.5-1-3.3-1-6.8-.5-6-.5-9.5-.2-12.2-.3-5.9-.1-12.1 .1-27.1 .3-5.9 .2-12.2 .5-9.5 1-10 1-4.9 .7-1.4zM178.5  294.5l.5 0 .5 .9 .5 2 .5 4.1 .4 8.5 0 15-.4 27.5 .1 16 .3 12-.1 19.5-.3 6.5-.5 4.1-.5 2-.5 .9-.5 0-.5-.8-1-4-1-8.8-.5-8.3-.1-7.6-.4-9-.1-20.5 .1-21.5 .4-9 .1-7.6 1-13.5 1-6 .5-1.6 .5-.8zM215.5  294.3l.5 .3 .4 1.4 .6 4.6 1 17.3 .3 9.1-.2 18 .1 39.5-1.2 22.9-.6 4.6-.4 1.4-.5 .3-.5-1.2-1-6.3-1-12.3-1-23-.1-11.4 .1-22.4 .4-6.1 .1-8 .5-8.9 1-12.3 .5-3.8 .5-2.5 .4-1zM191.5  299l.5 .1 .5 1.1 .5 2.7 .3 5.6 .1 6.5-.3 12.5-.1 26 .4 44-.5 8.5-.5 2-.4 .9-.5 .1-.5-.5-.5-1.1-.5-1.6-1-6.2-1-11.8-.5-16.8 0-37.5 .5-13.3 .5-6.8 1-8.6 .5-2.6 .5-1.6 .5-1.1zM203.5  300l.5 .9 .5 2.3 .6 5.3 .3 10 .1 13.5-.1 60-.3 7-.4 4-.7 4.1-.5 .9-.5-.1-.5-1.1-.5-1.9-1-5.8-.5-4.9-.5-8.4-.5-18.5-.1-11.8 .1-14.8 .5-18.5 .5-8.4 .5-4.9 1-5.8 .5-1.9 .5-1.1 .3-.1zM228  321.8l1 .1 .5 .4 1 1.8 .5 2.5 .1 5.4-.3 22 .3 15.5-.1 11.9-.5 2.5-.5 1.1-.5 .7-1 .6-1-.3-1-.9-.5-.9-.5-1.7-.5-6.1-.1-3.4 .1-41.4 .5-6.1 .5-1.7 .5-.9 1-.9zM239  328.4l1.5 .3 2-.5 .5 .2 .5 1.5 .1 46.1-.2 2.5-.4 1.1-.5 .2-2-.5-2 .2-.5-.7-.5-3.9-.2-19.4 .2-21 .5-5.3 .6-.7zM251.5  329.7l.5 0 1.5 .3 2 0 1 .3 .5 .8 .2 5.4 0 32.5-.2 7.9-.5 .8-.5 .2-2.5 .1-1.5 .3-.5 0-.5-.7-.5-4.1-.1-4.5 0-32.5 .1-2 .5-4.1 .3-.4zM293  330.4l2-.2 1 .6 .9 1.2 .5 1 .6 2.6 .1 12.4-.1 24.4-.5 2.3-.5 1.1-1 1.4-1 .6-1.5-.1-1-.4-.5-.7-.5-2.4-.2-18.7 .2-21 .5-3.1 .8-.9zM265.5  331.2l3 0 1.5 .5 .5 .5 .5 2.1 0 39.4-.5 2.1-1 .8-1 .2-3 0-.5-.3-.5-1.1-.3-12.4 .1-22.5 .2-7.9 .5-1.1zM283  332.3l.5-.1 .5 .4 .2 1.9 0 39-.2 1.9-.5 .4-2-.8-2-.1-.5-.2-.5-.6-.5-3-.1-2.6-.1-19.5 .2-12.1 .5-3 .5-.6 .5-.2 2-.1 1.1-.5zM307  335.9l2.5 .1 1 .8 .5 .9 .5 1.7 .3 3.1 .1 19.5-.2 5-.2 1.6-.6 1.9-.9 1.2-1 .4-2 0-.5-.2-.3-.4-.2-.5-.5-3.3-.1-13.7 .1-13.7 .5-3.6 .7-.7z"/>
<path fill="#3cffba" d="M140.5  300l.5 .1 .5 .6 .5 1.6 .4 2.2 .3 5 .2 7.5-.3 13 0 20.5 .2 45.5-.3 6.5-.5 3.2-.5 1.6-.5 .6-.5 .1-.5-.4 0-107.2 .5-.4zM153  300.5l.5-.2 .5 .4 .5 1.3 .5 2.3 .5 5.2 .3 9-.3 30 .2 46-.2 4.4-.5 4.8-.5 2.3-.5 1.3-.5 .4-.5-.2-.5-.8-.5-1.5-1-5.2-.5-4.6-.5-7.9-.5-21.5 0-28.4 .4-9.1 .1-8 .5-7.9 .5-4.6 1-5.2 .5-1.5 .5-.8zM166  302.4l.5 0 .5 .9 .5 2.1 .4 2.6 .4 6.5 .1 9-.3 30.5 .3 28-.1 10.5-.3 6.2-.5 3.9-.5 2.1-.5 .9-.5 0-.5-.7-.5-1.4-.5-2.2-1-8.1-.5-8-.4-14.7-.1-14.5 0-16.5 .5-16.7 .5-8 1-8.1 .5-2.2 .5-1.4 .4-.6zM178.5  306.9l.5 .9 .5 2.1 .5 4.5 .5 8.9 .2 8.7-.3 21.5 .3 21.5-.2 8.5-.7 12.5-.7 4-.6 1.1-.5-.1-.5-1.1-.5-2-1-7.4-.5-7.6-.5-20 0-17.9 .5-19.9 .5-7.6 .5-4.5 1-4.9 .6-1.1zM215.5  311.3l.5 1.2 .5 2.7 1.5 11.6 .1 8.7-.1 45-1.5 12.3-.5 2.7-.5 1.2-.5-.3-.5-1.7-1.5-10.6-.5-5.5-.5-18.1 0-18 .5-13.1 1.5-13.4 .5-2.7 .5-1.7 .2-.1zM191  311.9l.5 .2 .5 .9 .5 2.2 .5 5.8 .1 5-.3 28 .2 12.8 0 19.6-.6 7.1-.7 2-.2 .4-.5 .2-.5-.4-.5-.9-.5-1.6-1-5.8-.5-5.2-.4-13.2 .3-15-.3-16.5 .4-11.7 .5-5.2 1-5.8 .5-1.6 .5-.9 .4-.3zM202.5  314.3l.5-.3 .5 .6 .5 1.7 .5 3.3 .5 6.4 .3 10.5 0 34.5-.2 9-.8 10-.8 3.4-.5 .6-.5-.3-1-2.7-.5-2.6-.5-4.4-.5-8.6-.5-14.9 0-13.2 .5-14.7 .5-8.1 .8-6.5 .7-2.6 .4-.9zM228  325.4l1 .1 .5 .4 1 1.8 .5 3.3 0 2.5-.2 20.5 .2 12 0 10.8-.3 2.7-.5 1.5-.7 1.1-1 .6-1.5-.5-.5-.5-.7-1.2-.3-1.1-.5-7.4 0-37.5 .5-5.9 .5-1.6 .5-.7 1.2-.8zM238.5  331.5l.5-.2 1.5 .1 2-.3 .5 .4 .5 2.6 0 39.8-.5 2.6-.5 .4-2-.3-1.5 .1-.5-.2-.5-.8-.5-4.1-.1-17.6 .1-17.6 .5-4.1 .5-.8zM252  331.8l3 0 1 .3 .5 .4 .5 1.1 .2 11.9-.2 28.5-.5 1.5-.5 .4-1 .3-2.5 0-1-.3-.5-.7-.5-4.1-.1-15.6 .1-18 .5-4.7 .6-.8zM266  333l2.5-.1 1 .3 .5 .4 .6 1.4 .4 3 0 32.5-.4 2.5-.4 1-.7 .8-1.5 .3-2.5-.2-.5-.4-.5-1.5-.3-15.5 .2-20.5 .2-2.5 .4-1 .8-.5zM293.5  334l1.5-.1 .5 .2 1 1 1 2.1 .5 3.6 0 26.4-.5 3.6-.5 1.3-1 1.4-1 .6-1.5-.1-1-.5-.5-1-.5-3.1 0-30.8 .5-3.1 .5-1 1-.5zM282.5  334.9l.5 0 .5 .1 .5 1.1 .1 4.4-.1 30.5 0 .9-.3 .6-.2 .5-.5 .1-3.5-.4-.5-.2-.5-1-.5-4.5-.1-20.5 .2-8 .4-2.2 .5-.8 .5-.2 2.7-.3zM307.5  337.9l2 0 1 1.1 .8 2.5 .3 3 .1 15.5-.2 5.3-.4 2.2-.6 1.5-.5 .7-1 .5-1.5-.1-.5-.1-.6-.5-.4-.8-.5-4.6 0-20.2 .5-4.6 .5-.9 .6-.4z"/>
<path fill="#26ffd1" d="M140.5  308.3l.5 .5 .5 1.2 .5 2.6 .5 6.6 .1 6.8-.1 62.8-.6 7.2-.4 2-.5 1.2-.5 .5-.5-.1 0-91.2zM153  308.5l.5 .1 .5 .9 .5 1.9 .4 2.6 .4 6.5 .2 8-.1 57.5-.4 7-.5 3.6-.5 1.9-.5 .9-.5 .1-.5-.5-.5-1.2-.5-1.8-1-6.9-.5-7.2-.5-17.4 0-9.5 .2-17.5 .3-11.4 .5-7.2 1-6.9 .5-1.8 .5-1.2 .5-.5zM165.5  310.9l.5-.4 .5 .5 .5 1.5 .5 3.1 .5 7.4 .1 7.5-.1 54.3-.3 5.7-.4 3.5-.8 3-.5 .5-.5-.4-1-3.2-1-7.4-.5-7.7-.5-21.3 .1-14 .5-16 .9-10.5 .5-2.9 1-3.1zM178  315.5l.5 .2 .4 1.3 .6 3.4 .7 8.1 .2 7.5-.2 17 .2 18-.1 6-.3 5.7-.6 5.3-.6 3.5-.3 .8-.5 .2-.5-.8-.5-1.7-1-7.5-.5-8.5-.3-20 .3-20 .5-8.5 1-7.5 .5-1.7 .5-.8zM190.5  318.2l.5-.1 .5 .5 .5 1.4 .3 1.5 .4 4 .1 7-.2 21 .2 18.5 0 8-.3 4.8-.4 2.7-.6 1.9-.5 .5-.5-.1-.5-.6-1-3.4-.5-3.1-.5-5.1-.2-6.6 .4-16.5-.4-14.5 .2-9.6 .5-5.1 .5-3.1 .5-2.1 .8-1.6zM215  321.1l.5-.1 .5 .9 1 3.6 .8 4.5 .2 4 0 42-.5 4.2-.5 2.3-1 3.6-.5 .9-.5-.1-.5-1-1-4.1-.5-3.2-.5-4.9-.3-10.2 0-18.5 .3-10.7 1-8.1 .5-2.4 .8-2.3zM202.5  322.4l.5-.1 .5 1 1 5.8 .5 6.5 .1 8.4-.1 28.4-.5 6.5-.5 3.6-.5 2.2-.5 1-.5-.1-.5-.9-.5-1.8-.5-2.9-1-11.8-.4-12.7 .2-10.5 .7-12.1 .5-4.9 .5-2.9 .5-1.8 .4-.8zM227.5  327.9l1-.2 .5 .2 1 1.1 .5 1.4 .2 1.1 .2 4.5-.2 18 .3 15-.1 5-.3 3-.4 1.5-.7 1.2-1 .6-1.5-.4-.8-.9-.4-1-.4-2-.4-6.5 0-29.5 .1-4.5 .5-5 .4-1.1 .5-.8 .8-.6zM241  333.5l1-.3 .5 .2 .5 .7 .5 4.9 0 30.5-.5 4.4-.5 .7-.5 .2-1.5-.3-1.5 0-.5-.3-.5-1.1-.5-5.1-.1-20 .1-8 .2-2.5 .3-2.6 .5-1.1 .5-.3 1.8 0zM252  333.5l1-.2 2.5 .1 1 .7 .5 1.5 .1 13.4-.1 23.4-.5 1.5-.5 .5-1 .3-2.5 0-1-.5-.5-1-.5-4.5 0-29.4 .5-4.5 .5-1 .4-.3zM266  334.3l2.5 0 1 .4 .5 .5 .5 1 .4 3.3 .1 25-.2 5-.3 2.3-.5 1-1 .8-1 .2-1.5-.1-1-.3-.5-.5-.5-1.5-.2-14.4 .1-18.5 .3-2.5 .3-.9 .7-.6zM280  336.9l3 0 .5 .5 .5 1.9 0 29.4-.5 1.9-.5 .5-.5 .1-2.5-.1-1-.5-.5-.9-.5-4.2 0-23 .5-4.2 .5-.9 .7-.4zM294  337.5l1.5 .1 1 .9 .5 .8 .5 1.7 .4 5 0 14-.3 6.5-.6 2.2-.5 .8-.5 .6-1 .4-1.5 0-.5-.2-.5-.5-.5-1.3-.5-5.3 0-18.2 .2-2.5 .3-3 .5-1.3 .5-.5 .9-.2zM308  339.5l1.5 .1 .5 .5 .5 .9 .7 2.5 .3 3.6 0 11.9-.2 4.5-.3 1.9-.5 1.6-.5 .9-.5 .5-.5 .2-1.5-.2-.5-.2-.6-.7-.5-1.5-.3-5.5-.1-11.5 .4-7 .6-1.7 .5-.5 1-.3z"/>
<path fill="#13fce4" d="M140.5  314.8l.5 .8 .6 2.4 .4 3.3 .3 5.2 .1 10.5 0 36-.2 9-.3 6-.4 2.5-.5 1.9-.5 .8-.5 .2 0-78.8zM153  314.7l.5 .5 .6 1.8 .4 2 .5 5.2 .3 9.3 0 15 0 24-.3 11.3-.5 5.2-.4 2-.6 1.8-.5 .5-.5-.4-.5-1-.5-1.6-1-6.7-.5-7.4-.4-19.7 .3-20.5 .6-11.6 1-6.7 .5-1.6 .6-1.1zM166  317l.5 .8 .5 2.2 .6 6 .3 10.5 .1 17.5-.1 17.5-.3 10.5-.6 6-.5 2.2-.5 .8-.5-.2-.5-1-.5-1.9-1-7.4-.5-8.3-.3-18.2 .3-18.2 .5-8.3 1-7.4 .5-1.9 .5-1 .5-.2zM178  322.4l.5 .6 .3 1 .7 3.9 .5 5.6 .1 4.5-.2 15 .1 21.3-.5 5.8-.5 3.1-.5 1.8-.5 .6-.5-.7-.5-1.7-.5-3.1-.5-5.2-.4-10.4-.2-10 .1-10.5 .5-10.9 .5-5.2 .5-3.1 .5-1.7 .5-.6zM190.5  322.3l.5 0 .5 .8 .5 2 .5 5.4 .1 5.5-.4 17.5 .4 15-.1 9-.6 6-.5 1.5-.4 .7-.5 0-.5-.5-.5-1.2-.7-3.5-.6-5-.2-5.5 .6-16-.5-13.5 0-6 .4-5.2 .5-3.2 .5-2.1 .8-1.5zM215  326.8l.5-.1 .5 .5 1 2.3 .6 3 .2 5 .2 17-.3 19-.2 2.8-.5 2.2-1 2.3-.5 .5-.5-.1-.5-.7-.5-1.3-.7-3.2-.7-6-.2-6.5 0-16.5 .2-8.5 .4-4.8 .5-2.9 .5-2 .8-1.8zM202.5  329.6l.5 0 .5 1 .9 4.9 .4 5.5 .2 7 0 13.7-.4 8.3-.6 5.4-.5 2-.5 1-.5 0-.5-.9-1-4.5-1-9.5-.2-7 .1-10 .6-7.7 1-6.5 .8-2.3zM227.5  329.8l1-.2 .5 .2 1 1.3 .5 1.7 .3 4.2-.2 17 .2 14.5-.1 4.5-.2 2.2-.5 1.7-.5 .9-1 .6-.5 0-1-.4-.5-.5-.5-.9-.5-2-.3-4.6 .3-15.5-.3-13 .1-5 .2-3.1 .3-1.4 .7-1.5 .6-.5zM254.5  334.5l1 .2 .5 .3 .5 .6 .5 1.9 .1 12.5-.1 20.5-.5 1.9-.5 .6-.5 .3-1 .2-1.5-.1-1-.2-.5-.5-.5-1.2-.5-5.2-.1-10.3 .1-14.3 .5-5.2 .5-1.2 .5-.5 1-.2 1.5-.1zM239.5  335.4l2.5-.2 .5 .2 .5 1 .3 2.6 .1 6.5 0 21.5-.4 4.6-.5 1-.5 .2-2.5-.2-.5-.1-.5-.5-.5-1.4-.2-2.6-.3-6 0-18 .5-6.6 .5-1.4 .7-.5zM266.5  335.4l2 0 1 .5 .5 .6 .5 1.3 .3 3.7 .1 22-.2 5-.2 1.7-.5 1.3-1 .9-1 .3-1.5-.1-1-.4-.5-.6-.5-1.8-.2-15.8 .2-15.8 .5-1.8 .5-.6 .6-.3zM280.5  338.4l1.5 0 1 .4 .5 .9 .5 3.4 0 21.8-.5 3.4-.5 .9-1 .4-2-.1-1-.6-.5-1.2-.4-4.2-.1-14 .2-6 .3-3.2 .5-1.2 1-.6zM308.5  340.9l1 .2 .5 .6 .5 1.2 .5 2.6 .3 4.5 0 8-.3 4.7-.5 2.3-.3 1-.7 .9-.5 .2-1.5-.3-.5-.3-.5-.8-.5-1.8-.2-3.9-.1-10 .3-5.9 .7-2.1 .8-.8 .6-.2zM293  341.9l.5-.2 2 .1 .5 .1 .5 .5 .5 1.1 .4 3 .2 6.5-.2 8.5-.4 3-.5 1.1-.5 .5-.5 .1-2 .1-.5-.2-.5-.9-.5-2.8-.2-6.9 .2-9 .4-3.5 .5-1z"/>
<path fill="#00e0fb" d="M140  320l.5 .4 .7 2.1 .3 2 .5 5 .2 9 0 17 0 15.5-.3 8.5-.4 4.4-.5 2.5-.5 1.2-.5 .4 0-68zM152.5  320.3l.5-.2 .5 .7 .5 1.7 .5 3.3 .5 8.1 .1 9.1 0 21.5-.2 11.5-.4 6-.3 2.5-.7 2.7-.5 .7-.5-.2-.5-.8-.5-1.7-.9-6.2-.6-8.9-.2-11.1 .1-17 .5-10.5 .6-6.1 .5-2.6 .9-2.3zM165.5  322.6l.5 0 .5 1.3 .5 3 .5 7.5 .2 10.6 0 16.5-.2 12.1-.5 7.5-.5 3-.5 1.3-.5 0-.5-1-1-4.8-.7-8.1-.4-11.5 .1-16.2 .5-10.5 .5-4.9 .5-3 .8-2.4zM190.5  325.7l.5 .2 .3 .6 .5 2.5 .4 3.5 .1 5-.6 16.5 .5 13 0 7.5-.2 3.3-.5 3.1-.5 1.2-.5 .2-.5-.5-.5-1.3-.5-2.2-.5-4.4-.1-3.9 .1-4.8 .7-11.2-.8-12.5 .1-6.5 .5-5.3 .5-2.2 .7-1.5zM178  328.9l.5 .6 .6 3 .4 3.4 .1 5.1-.1 30.5-.5 5-.5 2-.5 .6-.5-.5-.5-1.9-.5-3.6-.5-7.3-.2-10.8 .2-11.5 .4-7.5 .6-4.7 .5-1.9 .4-.4zM215  331l.5-.1 .5 .2 .5 .8 .5 1.3 .3 1.8 .2 3 .3 14-.4 20-.7 3.5-.7 1.4-.5 .2-.5-.1-.5-.5-1-3.1-.6-4.9-.3-8 0-14 .3-8 .9-5 .7-2 .5-.5zM227.5  331.4l1-.1 .5 .2 .7 1 .7 2.5 .2 3-.3 16 .3 12.5-.1 5.5-.5 2.9-.5 1.1-1 .7-.5 0-1-.5-.8-1.2-.6-2.5-.2-3 .2-7 .9-8.5-.5-3.7-.5-5.6 0-8.2 .5-3.1 .5-1.1 .9-.8zM202.5  335.4l.5 0 .5 .8 .8 3.8 .4 5.5 .2 8.5-.2 8.5-.4 5.5-.8 3.8-.5 .8-.5 0-.5-.6-.5-1.4-1-5.3-.5-5.8-.1-5 .1-5.6 .5-6.2 1-5.3 .5-1.4 .4-.5zM252.5  335.8l2-.2 1 .2 .5 .4 .5 .8 .5 2.5 0 29-.4 2-.4 1-.7 .7-1 .2-2-.2-1-.9-.5-1.5-.4-4.3-.1-7.5 .1-14.5 .4-5.3 .5-1.5 .7-.7zM266.5  336.4l1.5-.1 1 .3 .5 .4 .5 .8 .5 1.5 .2 2.7 .1 20.5-.2 5.5-.2 1-.6 1.5-.8 .9-1 .3-1.5-.1-1-.5-.5-.8-.5-2-.2-14.3 .2-14.3 .5-2 .5-.8 .8-.4zM241  337l1 0 .5 .4 .5 1.4 .3 6.2 0 16.5-.2 6.5-.1 1.2-.5 1.4-.5 .4-.5 .1-2-.3-.5-.2-.6-1.1-.5-2.5-.4-9.5 0-7 .5-10.3 .5-2.1 .5-.7 .5-.2 1.4-.2zM280.5  340l1.5 0 .5 .2 .5 .5 .5 1.5 .4 4.3 0 12.5-.3 6-.6 2.3-.5 .5-1 .3-1.5-.1-.5-.3-.5-.5-.5-1.5-.3-4.2-.1-11 .3-7.5 .6-2.2 .5-.5 .7-.3zM308.5  342.4l.5 0 .5 .2 .7 1.4 .5 2.5 .3 4 0 7.5-.4 4-.6 2.6-.5 .8-.5 .2-1.5-.4-.6-.7-.5-1.5-.4-3.5-.1-9 .2-4 .4-2.1 .4-.9 .6-.7 .7-.3z"/>
<path fill="#00c8ff" d="M140.1  325l.4 .5 .5 1.6 .7 5.9 .3 8.9 .1 15.1-.1 11-.5 9.4-.5 3.5-.5 1.6-.5 .7 0-58.4zM152.5  325l.5 0 .5 .9 .5 2.2 .3 2.9 .5 7 .2 10.5-.1 15-.4 11-.5 5.4-.5 2.2-.5 .9-.5 0-.5-.8-.5-1.6-.5-2.8-.7-7.3-.3-12 0-12.5 .5-11.1 .5-4.7 .5-2.8 .5-1.6 .5-.8zM165.5  327.7l.5 .2 .5 1.8 .5 4.3 .4 9 .1 11-.1 11-.4 9-.5 4.3-.5 1.8-.5 .2-.5-.9-.5-1.9-.6-4.5-.5-7-.2-11 .1-9.5 .4-8 .8-7 .5-1.9 .3-.6zM190.5  329.1l.5 .4 .5 2 .4 6.5-.4 8.2-1 7.8 1 8.5 .3 5 0 4.5-.3 4.5-.5 2-.5 .4-.5-.5-.6-1.9-.4-2.9-.2-3.6 .3-6 1.4-10-1-6.3-.5-4.8-.2-3.9 .3-5.5 .4-2.4 .6-1.6zM228  332.9l.5 0 .5 .3 .5 .6 .5 1.4 .3 2.8 .1 4-.4 5.5-.5 2.2-.5 .3-1.5-.5-.5-.5-.6-1.5-.5-3.5-.2-4.5 .3-3.7 .5-1.6 .5-.8 .7-.4zM215  334.5l.5-.1 .7 .6 .3 .6 .5 2.4 .6 14-.1 7.1-.5 10.9-.5 2.4-.5 .9-.5 .3-.5-.1-.5-.5-.5-1.2-.5-2.2-.5-5-.1-5.6 0-11 .2-6.5 .4-3.1 .5-2.2 .5-1.2 .5-.5zM178  335.5l.5 1 .5 4.5 .1 13-.1 13-.5 4.5-.5 1-.5-.5-.5-2.3-.3-2.7-.3-5.5-.2-7.5 .2-7.5 .3-5.5 .7-4.5 .1-.5 .5-.5zM252.5  336.9l1-.3 1 0 1 .3 .5 .4 .5 1.2 .5 3.2 0 24.6-.6 3.7-.4 .7-.5 .4-1 .3-1 0-1-.3-.5-.4-.5-.7-.5-1.8-.3-3.2-.2-11 .2-11 .5-4 .3-1 .9-1zM266.5  337.4l1.5-.2 1 .4 .5 .5 .5 .8 .3 1.1 .3 3 .1 18.5-.2 5.6-.5 2-.5 .8-.5 .5-1 .4-1.5-.2-1-.6-.5-.9-.5-2.4 0-25.4 .5-2.4 .5-.9 .7-.5zM239.5  338.9l1.5-.3 1 .2 .5 .6 .5 2.1 .2 9-.2 15.5-.5 2.6-.5 .6-.5 .2-1.5-.2-1-.6-.5-1.1-.5-3.2-.4-10.3 .4-10 .5-3.5 .5-1.1 .4-.4zM202.5  339l.5 .2 .5 .8 .5 2 .5 4.8 .2 7.2-.2 7.2-.5 4.8-.5 2-.5 .8-.5 .2-.5-.5-.5-1.2-.5-1.9-.6-3.9-.3-6 .1-5 .3-4.6 .5-3.3 .5-1.9 .5-1.2zM281  341.5l1 .1 .5 .4 .5 .9 .5 2.7 .1 3.4-.1 13.5-.7 3-.3 .5-1 .5-1.5-.1-.5-.3-.5-.8-.5-2.2-.1-2.6-.1-9.5 .2-6.1 .6-2.4 .4-.6 1.1-.4zM309  344l.5 .3 .3 .7 .5 2 .2 2.5 .1 4.5-.1 4.5-.2 2.5-.5 2-.3 .7-.5 .3-1-.3-.5-.4-.7-1.3-.4-2.5-.1-5.5 .1-5.5 .4-2.5 .7-1.3 .5-.4 1-.3zM227.5  358.5l1.5-.5 .5 .3 .5 2.2 .3 4 .1 4.5-.3 3.5-.6 1.7-.5 .6-.5 .3-1-.2-1-1.1-.5-1.6-.2-2.2-.1-3.5 .3-4.1 .5-2.4 .5-1.1 .5-.4z"/>
<path fill="#00acff" d="M140.3  330l.7 2.7 .5 5.3 .3 18.5-.4 15-.4 4-.5 2-.5 1 0-49zM152.5  329.5l.5 .2 .5 1.2 .6 4.1 .4 6.5 .2 12.5-.2 12.5-.4 6.5-.6 4.1-.5 1.2-.5 .2-.5-.8-.5-1.7-.5-3.5-.5-6-.3-11 .1-8.5 .3-7.5 .7-6.5 .9-3zM165.5  332.7l.5 .5 .5 2.6 .2 2.2 .3 5.5 .2 10.5-.2 10.5-.3 5.5-.2 2.2-.5 2.6-.5 .5-.5-.9-.5-2.2-.5-3.9-.4-6.8-.1-6.5 .1-7.5 .4-7.8 .5-3.9 .5-2.2 .4-.6zM190.5  333.2l.5 1.1 .3 4.2-.3 4.5-.5 1.7-.5-.8-.5-4.9 .2-3.5 .3-1.5 .3-.5zM227.5  334.8l.5-.3 .5 .1 .5 .3 .5 1.1 .5 2.5 0 4-.3 2.5-.4 1.5-.3 .5-.5 .3-.5 0-.5-.3-.5-.6-.5-1.6-.3-1.8-.1-2.5 .1-2.5 .3-1.6 .8-1.4zM215  337.7l.5 .1 .5 .5 .5 1.8 .5 5.4 .3 8.5-.3 8.5-.5 5.4-.5 1.8-.5 .5-.5 .1-.5-.6-.5-1.4-.5-3-.4-9.8 .1-7.5 .3-5.3 .5-3 .8-1.7zM253  337.8l1-.2 1 .1 1 .8 .6 1.5 .4 4.5 0 18.5-.2 3-.3 2.3-.5 1.2-.5 .5-1 .4-1.5-.2-1-.7-.5-.9-.3-1.1-.3-3-.3-10.5 .3-10.5 .1-1.9 .5-2.2 .5-.9 .5-.5zM266.5  338.3l1.5-.2 1 .5 .5 .5 .6 1.4 .4 3 .1 16-.1 5.8-.5 2.5-.5 1.1-.5 .5-1 .5-1.5-.2-1-.7-.5-1.1-.5-2.9 0-22 .5-2.9 .5-1.1 .6-.5zM240  340.4l1.5-.1 .5 .3 .5 .9 .5 3.5 0 18-.5 3.5-.5 .9-1 .3-1.1-.2-.9-1-.6-2-.5-5.5 0-7 .3-6.5 .6-3.5 .5-1 .6-.5zM202.5  341.7l.5 .2 .5 1 .5 2.4 .3 4.2 .2 4.5-.2 4.5-.3 4.2-.5 2.4-.5 1-.5 .2-.5-.4-.5-1.2-.5-2-.5-4.1-.1-3.6 .1-5 .3-3.5 .7-3.2 .7-1.3zM280  343.4l1.5-.2 .5 .2 .4 .6 .6 1.8 .2 2.2 .1 8.5-.2 5-.6 2.4-.5 .7-.5 .2-1 0-1-.6-.5-1.2-.4-3-.1-6 .1-6 .4-3 .5-1.2 .4-.3zM178  343.9l.5 4.6 0 5.5 0 5.5-.5 4.6-.5-.4-.2-1.7-.3-3-.1-4 .2-7 .4-3.7 .4-.3zM309  346l.5 .5 .5 2 .2 5.5-.2 5.5-.5 2-.5 .5-1-.4-.6-1.1-.4-1.6-.2-3.4 .1-4.5 .2-2.5 .4-1.3 .4-.7 1-.5zM227.5  361l.5-.3 .5 0 .5 .3 .5 1 .5 3.4 0 3.6-.2 2-.5 1.5-.3 .6-.5 .3-.5 .1-.5-.3-.5-.5-.5-1.1-.3-2.1-.1-2.5 .3-3 .5-2 .6-1zM190.5  363.3l.5 1.7 .3 4.5-.3 4.2-.5 1.1-.5-.8-.1-.5-.4-4 .4-4.5 .1-.9 .4-.6z"/>
<path fill="#0090ff" d="M140.1  334.5l.4 1.2 .6 4.3 .3 7 .1 7.5-.1 7.5-.4 7-.5 3.3-.5 1.4 0-39.4zM152.5  334.1l.5 .4 .5 1.7 .5 4.3 .4 13.5-.4 13.5-.5 4.3-.5 1.7-.5 .4-.5-.9-.5-1.9-.5-3.8-.5-11.8 .1-7.5 .4-7.3 .5-3.8 .5-1.9 .3-.5zM228  336.5l.5 0 .5 .7 .4 1.8 .1 1.5-.1 2-.4 1.7-.5 .7-.5 .1-.5-.4-.5-1.2-.3-2.9 .3-2.7 .5-1 .5-.3zM165.5  338.2l.5 .9 .5 4.4 .3 10.5-.3 10.5-.5 4.4-.5 .9-.5-1-.5-2.7-.5-6.1-.1-5 .1-6.3 .3-5.2 .7-4.3 .4-.7zM253  338.8l1-.3 1 .2 .5 .3 .5 .7 .5 1.5 .3 3.8 .1 14-.2 6.5-.2 1.3-.5 1.5-.5 .7-1 .4-1.5-.2-1-.8-.6-1.4-.4-3-.2-11 .2-9.4 .5-2.8 .5-1.2 .6-.6zM267.5  339l1 .2 .5 .3 .5 .7 .5 1.2 .5 3.6 .1 5.5-.1 11.5-.3 3.5-.2 1.1-.6 1.4-.9 .8-1 .2-1-.2-.5-.3-.5-.6-.4-.9-.5-3-.1-3 0-14.5 .2-3 .3-2.2 .5-1.2 .5-.6 1.2-.5zM215  341l.5 .1 .4 .9 .4 2 .5 5 .2 5-.2 5-.5 5-.4 2-.4 .9-.5 .1-.5-.6-.6-2.9-.4-4.5-.1-5 .1-5 .4-4.5 .6-2.9 .5-.6zM240  342.2l1-.2 .5 .1 .5 .5 .5 1.4 .3 4 .1 9.5-.3 5.5-.1 1-.5 1.4-.5 .5-.5 .1-1-.2-.5-.5-.5-1.1-.5-2.5-.3-4.2-.1-5 .4-6 .5-2.7 .7-1.3zM202.5  343.9l.5 .3 .7 2.3 .4 3 .1 4.5-.1 4.5-.4 3-.7 2.3-.5 .3-.5-.5-.5-1.1-.4-2-.3-3-.2-3.5 .2-3.5 .3-3 .4-1.9 .5-1.2 .4-.4zM280.5  345.4l1 0 .6 .6 .4 1.5 .3 3.5 0 6-.3 3.5-.5 1.6-.5 .5-.5 .1-1-.4-.5-.8-.5-3.5 0-9 .5-2.5 .5-.8 .3-.2zM309  349.4l.4 2.1 .1 2.5-.1 2.5-.4 2.1-.5-.4-.2-.7-.3-2.5 0-3.5 .5-1.7 .4-.3zM227.5  363.4l.5-.4 .5 .1 .3 .4 .4 1 .3 1.9 0 2.2-.4 1.9-.6 1-.5 0-.5-.3-.5-1-.3-1.7 .1-3 .7-2z"/>
<path fill="#0078ff" d="M152.5  339.3l.5 .6 .5 2.8 .3 5.3 .2 6-.2 6-.3 5.3-.5 2.8-.5 .6-.5-.9-.5-2.5-.5-5.8-.1-5 .1-5 .4-6 .6-3.3 .4-.7zM254  339.5l1 .2 .5 .4 .5 .8 .4 1.6 .3 3.5 .1 6.5 0 8-.3 4.7-.5 1.9-.5 .8-.5 .4-1 .2-1-.3-.5-.4-.5-.7-.5-1.4-.5-4.2-.1-7.5 .1-7.5 .5-4.2 .5-1.4 .5-.7 .5-.4 1-.3zM140.1  340l.4 1.9 .3 3.6 .3 9-.4 9-.2 2.6-.5 2.2 0-28.6zM267  339.9l1-.1 .5 .2 .5 .5 .6 1 .4 1.3 .2 1.7 .3 5 0 10-.5 5.5-.5 1.7-.5 .8-.5 .5-1 .2-1-.3-.5-.4-.6-1-.5-2-.4-4.8 0-11.4 .3-4.3 .2-1.4 .5-1.4 .5-.7 .7-.5zM240.5  343.9l1 .3 .5 .8 .2 1 .3 2.5 .1 5.5-.1 5.5-.3 2.5-.2 1-.5 .8-1 .3-.5-.3-.5-.7-.5-1.7-.5-3.9-.1-3 .1-3.8 .5-4.1 .5-1.7 .5-.7 .3-.2zM215  344.5l.5 .4 .5 1.9 .4 4.2 .1 3-.1 3-.4 4.2-.5 1.9-.5 .4-.5-.9-.4-2.6-.2-6 .2-6 .4-2.6 .5-.9zM165.5  345.5l.5 2.3 .2 6.2-.2 6.2-.5 2.3-.5-1.5-.4-7 .3-6.5 .6-2zM202.5  346l.5 .4 .5 1.7 .4 5.9-.4 5.9-.5 1.7-.5 .4-.5-.5-.5-1.5-.5-4.5 .2-5.5 .3-2 .5-1.5zM281  349.3l.5 .2 .1 .5 .3 4-.3 4-.1 .5-.5 .2-.5-.3-.2-.4-.4-2 .1-5 .6-1.5z"/>
<path fill="#005cff" d="M254  340.5l1 .2 .5 .5 .7 1.8 .4 3 .1 7-.1 8-.3 3.5-.3 1.3-.5 1-.5 .5-1 .2-1-.3-.5-.5-.5-.9-.4-1.3-.4-3.5-.1-6 0-6.5 .4-4.4 .5-1.9 .5-.9 .5-.5 .9-.3zM267  340.8l1-.1 .5 .3 .5 .5 .5 .9 .5 2.1 .3 5 0 9-.3 5-.5 2.1-.5 .9-.5 .5-1 .3-1-.3-.5-.4-.5-.9-.5-1.9-.3-4.3-.1-9 .3-5.5 .6-2.7 .5-.9 .5-.4zM152.5  346.2l.5 1.6 .3 6.2-.3 6.2-.5 1.6-.5-1.4-.3-5.9 .2-6 .5-2zM240.5  346.3l.5 .1 .5 .6 .4 1.5 .3 5.5-.3 5.5-.4 1.5-.5 .6-.5 .1-.5-.4-.5-1.2-.4-2.6-.2-2.5 .1-3.5 .2-2 .3-1.6 .5-1.2 .2-.2zM140  347.5l.3 6.5-.3 6.6 0-13.2zM202.5  348.3l.5 .5 .2 1.2 .4 4-.4 4-.2 1.2-.5 .5-.5-.6-.3-1.1-.3-3.5 .1-3.5 .5-2.1 .3-.4zM215  349.3l.5 .9 .3 3.8-.3 3.8-.5 .9-.5-2.2 0-2 0-2.6 .4-2.4z"/>
<path fill="#0044ff" d="M253  342l.5-.3 1-.1 .5 .3 .5 .6 .6 2 .4 4 0 10.2-.3 4.3-.2 1.2-.5 1.3-.5 .6-1 .4-1-.5-.9-1.5-.5-2.5-.2-2.5-.1-8 .2-4.8 .5-2.9 .5-1.2 .5-.6zM266.5  342l.5-.3 1-.1 .5 .3 .5 .6 .7 2 .4 3.5 0 10-.3 4.5-.3 1.8-.5 1.2-.5 .6-1 .3-1-.4-.5-.5-.5-1.1-.5-2.5-.1-2.4-.1-8 .2-5.4 .5-2.5 .5-1.1 .5-.5zM240.5  350.6l.5 .7 .2 2.7-.2 2.7-.5 .7-.5-1.3-.1-1.1 .1-3 .3-1zM202.5  351.2l.4 1.3 .1 1.5-.1 1.5-.4 1.3-.4-1.3-.1-1 0-1.7 .4-1.3z"/>
<path fill="#0028ff" d="M253.5  342.8l1 0 .5 .3 .5 .8 .5 2 .2 4.1 0 8-.2 4.1-.7 2.4-.8 .7-.5 .1-1-.5-.7-1.3-.4-2-.3-3.5 0-7 .2-4 .7-3 .8-1zM267  342.7l1-.1 .5 .4 .6 1 .6 2.5 .2 4 0 7.5-.4 4.5-.5 1.8-.5 .7-.5 .4-.5 .1-1-.5-.8-1.5-.4-2-.3-3 0-7.5 .2-3.5 .3-2.5 .5-1.3 .5-.7z"/>
<path fill="#0010ff" d="M254  344l.5 .1 .5 .5 .5 1.4 .4 3 .1 4.5-.1 5-.4 3.5-.5 1.4-.5 .5-.5 .1-.5-.2-.5-.5-.6-1.8-.4-3-.1-4.5 .1-4.5 .4-3 .6-1.8 .5-.5 .5-.2zM267  343.8l.5-.2 .5 .1 .5 .4 .5 1 .5 2.6 .1 2.8 0 7-.2 3.5-.4 1.9-.5 1-.5 .4-.5 .1-1-.6-.5-.9-.5-2-.2-2.9-.1-6.5 .3-4 .5-2.4 .7-1.1z"/>
<path fill="#0000ff" d="M267.5  344.8l.5 .1 .5 .6 .5 1.6 .3 2.9 .1 4-.1 4-.3 2.9-.5 1.6-.5 .6-.5 .1-.5-.2-.5-.6-.5-1.3-.4-4.6 0-5 .2-3 .3-2 .4-.9 .5-.6zM253.5  345.9l.5-.3 .5 .2 .5 .8 .4 1.9 .2 2-.1 8.5-.5 2.4-.5 .8-.5 .2-.5-.3-.5-.9-.5-2.2-.1-2 .1-7.6 .4-2.4 .5-1z"/>
<path fill="#0000e3" d="M267.5  346.3l.5 .2 .6 1.5 .3 2.5 .1 3.5-.1 3.5-.3 2.5-.6 1.5-.5 .2-.5-.4-.5-.9-.4-1.9-.1-2.5 .1-6.5 .4-1.9 .7-1.1zM254  348.2l.5 .5 .3 1.3 .2 4-.2 4-.3 1.3-.5 .5-.6-.8-.3-3.5 0-4.5 .3-2 .3-.5z"/>
<path fill="#0000c8" d="M267.5  348.8l.5 .4 .2 .8 .2 4-.2 4-.2 .8-.5 .4-.5-.7-.1-.5-.2-3 .1-4 .2-1.5 .3-.5z"/>
</g>
<rect x="150.5" y="84.5" width="744" height="539" fill="none" stroke="#000" stroke-width="1.11"/>
<g stroke="#000" stroke-width="1.11">
<path d="M212.5 623.5V628.5M336.5 623.5V628.5M460.5 623.5V628.5M584.5 623.5V628.5M708.5 623.5V628.5M832.5 623.5V628.5"/>
<path d="M150.5 129.5H145.5M150.5 241.5H145.5M150.5 354.5H145.5M150.5 466.5H145.5M150.5 578.5H145.5"/>
</g>
<g shape-rendering="crispEdges">
<rect x="941" y="84" width="27" height="14" fill="#8d0000"/>
<rect x="941" y="98" width="27" height="14" fill="#a80000"/>
<rect x="941" y="112" width="27" height="13" fill="#c80000"/>
<rect x="941" y="125" width="27" height="14" fill="#e40000"/>
<rect x="941" y="139" width="27" height="14" fill="#ff1600"/>
<rect x="941" y="153" width="27" height="14" fill="#ff3000"/>
<rect x="941" y="167" width="27" height="14" fill="#ff4700"/>
<rect x="941" y="181" width="27" height="14" fill="#ff6000"/>
<rect x="941" y="195" width="27" height="13" fill="#ff7700"/>
<rect x="941" y="208" width="27" height="14" fill="#ff9100"/>
<rect x="941" y="222" width="27" height="14" fill="#ffa700"/>
<rect x="941" y="236" width="27" height="14" fill="#ffc100"/>
<rect x="941" y="250" width="27" height="14" fill="#ffdb00"/>
<rect x="941" y="264" width="27" height="13" fill="#fbf100"/>
<rect x="941" y="277" width="27" height="14" fill="#e4ff13"/>
<rect x="941" y="291" width="27" height="14" fill="#d1ff26"/>
<rect x="941" y="305" width="27" height="14" fill="#baff3c"/>
<rect x="941" y="319" width="27" height="14" fill="#a7ff50"/>
<rect x="941" y="333" width="27" height="14" fill="#90ff66"/>
<rect x="941" y="347" width="27" height="13" fill="#7dff7a"/>
<rect x="941" y="360" width="27" height="14" fill="#66ff90"/>
<rect x="941" y="374" width="27" height="14" fill="#50ffa7"/>
<rect x="941" y="388" width="27" height="14" fill="#3cffba"/>
<rect x="941" y="402" width="27" height="14" fill="#26ffd1"/>
<rect x="941" y="416" width="27" height="14" fill="#13fde4"/>
<rect x="941" y="430" width="27" height="13" fill="#00e1fb"/>
<rect x="941" y="443" width="27" height="14" fill="#00c8ff"/>
<rect x="941" y="457" width="27" height="14" fill="#00adff"/>
<rect x="941" y="471" width="27" height="14" fill="#0091ff"/>
<rect x="941" y="485" width="27" height="14" fill="#0079ff"/>
<rect x="941" y="499" width="27" height="13" fill="#005dff"/>
<rect x="941" y="512" width="27" height="14" fill="#0044ff"/>
<rect x="941" y="526" width="27" height="14" fill="#0029ff"/>
<rect x="941" y="540" width="27" height="14" fill="#0011ff"/>
<rect x="941" y="554" width="27" height="14" fill="#0000ff"/>
<rect x="941" y="568" width="27" height="14" fill="#0000e3"/>
<rect x="941" y="582" width="27" height="13" fill="#0000c8"/>
<rect x="941" y="595" width="27" height="14" fill="#0000a8"/>
<rect x="941" y="609" width="27" height="15" fill="#00008d"/>
</g>
<rect x="941.5" y="84.5" width="26" height="539" fill="none" stroke="#000" stroke-width="1.11"/>
<g stroke="#000" stroke-width="1.11">
<path d="M967.5 84.5H972.5M967.5 219.5H972.5M967.5 354.5H972.5M967.5 488.5H972.5M967.5 623.5H972.5"/>
</g>
<text class="mono" font-size="29.80" x="403.63 421.74 439.62 457.19 475.74 493.62 512.89 530.50 548.83 566.98 585.60 603.36 621.96 639.61 657.80 675.68 694.36 712.50" transform="translate(0 76.00) scale(0.9200 1.0000)">bz at 160.10179 fs</text>
<text class="sans" font-size="29.80" x="111.23 129.98" transform="translate(0 140.00) scale(0.9500 1.0000)">10</text>
<text class="sans" font-size="29.80" x="130.11" transform="translate(0 252.00) scale(0.9500 1.0000)">5</text>
<text class="sans" font-size="29.80" x="130.55" transform="translate(0 364.00) scale(0.9500 1.0000)">0</text>
<text class="sans" font-size="29.80" transform="translate(100.23 479.13) scale(1.190 1.100)">−</text>
<text class="sans" font-size="29.80" x="129.56" transform="translate(0 477.00) scale(0.9500 1.0000)">5</text>
<text class="sans" font-size="29.80" transform="translate(83.23 591.13) scale(1.190 1.100)">−</text>
<text class="sans" font-size="29.80" x="111.63 130.38" transform="translate(0 589.00) scale(0.9500 1.0000)">10</text>
<text class="sans" font-size="29.80" x="215.82" transform="translate(0 655.00) scale(0.9500 1.0000)">0</text>
<text class="sans" font-size="29.80" x="335.44 354.19" transform="translate(0 655.00) scale(0.9500 1.0000)">10</text>
<text class="sans" font-size="29.80" x="465.74 484.73" transform="translate(0 655.00) scale(0.9500 1.0000)">20</text>
<text class="sans" font-size="29.80" x="596.61 615.17" transform="translate(0 655.00) scale(0.9500 1.0000)">30</text>
<text class="sans" font-size="29.80" x="727.89 746.50" transform="translate(0 655.00) scale(0.9500 1.0000)">40</text>
<text class="sans" font-size="29.80" x="857.48 876.20" transform="translate(0 655.00) scale(0.9500 1.0000)">50</text>
<text class="sans" font-size="22.30" x="1029.06 1043.02 1056.87 1070.53 1077.81" transform="translate(0 92.00) scale(0.9500 1.0000)">401.5</text>
<text class="sans" font-size="22.30" x="1029.30 1043.54 1057.49 1071.05 1078.37" transform="translate(0 227.00) scale(0.9500 1.0000)">200.7</text>
<text class="sans" font-size="22.30" x="1029.75 1043.30 1050.67" transform="translate(0 362.00) scale(0.9500 1.0000)">0.0</text>
<text class="sans" font-size="22.30" transform="translate(977.67 497.00) scale(1.190 1.100)">−</text>
<text class="sans" font-size="22.30" x="1046.95 1061.19 1075.15 1088.71 1096.03" transform="translate(0 496.00) scale(0.9500 1.0000)">200.7</text>
<text class="sans" font-size="22.30" transform="translate(977.67 632.00) scale(1.190 1.100)">−</text>
<text class="sans" font-size="22.30" x="1047.24 1061.19 1075.04 1088.71 1095.98" transform="translate(0 631.00) scale(0.9500 1.0000)">401.5</text>
<text class="mono" font-size="29.80" x="509.54 527.42 545.49" transform="translate(0 690.00) scale(0.9200 1.0000)">X [</text>
<text class="it" font-size="29.20" x="519.54 537.27" transform="translate(0 690.00) scale(1.0000 1.0000)">μm</text>
<text class="mono" font-size="29.80" x="612.20" transform="translate(0 690.00) scale(0.9200 1.0000)">]</text>
<text class="mono" font-size="29.80" x="-441.54 -423.66 -406.68" transform="translate(67.00 0.00) rotate(-90) scale(0.9200 1.0000)">Z [</text>
<text class="it" font-size="29.20" x="-356.46 -338.73" transform="translate(67.00 0.00) rotate(-90) scale(1.0000 1.0000)">μm</text>
<text class="mono" font-size="29.80" x="-339.97" transform="translate(67.00 0.00) rotate(-90) scale(0.9200 1.0000)">]</text>
<text class="mono" font-size="29.80" x="-612.11 -593.93 -574.09 -557.46 -540.14 -522.64 -503.06 -484.70 -466.67 -448.71 -430.83 -412.04 -394.72 -376.08 -357.53 -339.42 -321.63 -303.11 -284.61 -266.73 -248.44 -230.40 -212.18 -195.44 -176.05" transform="translate(1081.00 0.00) rotate(-90) scale(0.9200 1.0000)">Normalized magnetic field</text>
</svg>
</body></html>
